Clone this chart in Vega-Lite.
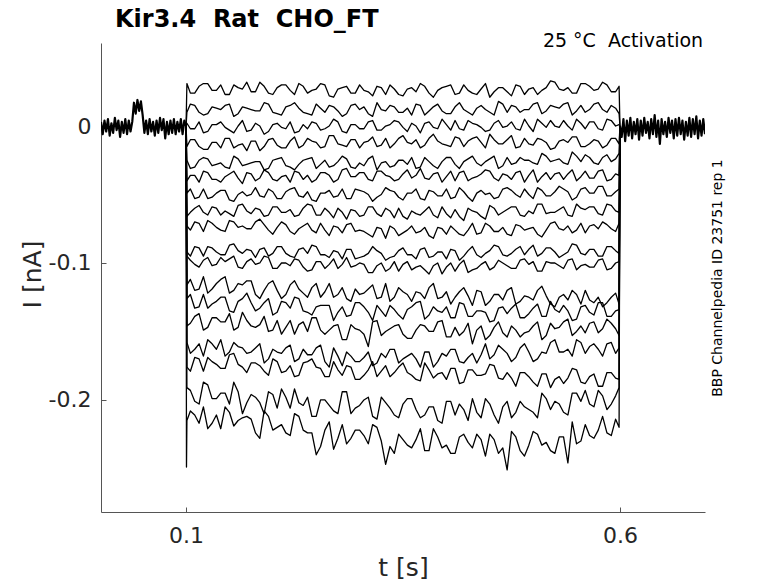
{
"$schema":"https://vega.github.io/schema/vega-lite/v6.json",
"width":604,"height":469,
"autosize":{"type":"none"},
"padding":{"left":101,"top":43,"right":73,"bottom":71},
"background":"white",
"config":{"view":{"stroke":null},"font":"DejaVu Sans"},
"title":{"text":"Kir3.4\u00a0 Rat\u00a0 CHO_FT","anchor":"start","frame":"group","dx":14,"dy":14,"offset":-5,"baseline":"alphabetic","fontSize":24,"fontWeight":"bold","color":"#000000","font":"DejaVu Sans"},
"data":{"values":[
{"s":0,"t":0.002,"i":0.003},{"s":0,"t":0.004,"i":-0.006},{"s":0,"t":0.006,"i":0.004},{"s":0,"t":0.008,"i":-0.004},{"s":0,"t":0.01,"i":0.005},{"s":0,"t":0.012,"i":-0.007},{"s":0,"t":0.014,"i":0.002},{"s":0,"t":0.016,"i":-0.005},{"s":0,"t":0.018,"i":0.006},{"s":0,"t":0.02,"i":-0.003},{"s":0,"t":0.022,"i":0.004},{"s":0,"t":0.024,"i":-0.008},{"s":0,"t":0.026,"i":0.003},{"s":0,"t":0.028,"i":-0.005},{"s":0,"t":0.03,"i":0.005},{"s":0,"t":0.032,"i":-0.006},{"s":0,"t":0.034,"i":0.004},{"s":0,"t":0.036,"i":-0.004},{"s":0,"t":0.038,"i":0.003},{"s":0,"t":0.04,"i":0.017},{"s":0,"t":0.042,"i":0.009},{"s":0,"t":0.044,"i":0.019},{"s":0,"t":0.046,"i":0.011},{"s":0,"t":0.048,"i":0.018},{"s":0,"t":0.05,"i":0.008},{"s":0,"t":0.052,"i":-0.005},{"s":0,"t":0.054,"i":0.004},{"s":0,"t":0.056,"i":-0.006},{"s":0,"t":0.058,"i":0.005},{"s":0,"t":0.06,"i":-0.004},{"s":0,"t":0.062,"i":0.003},{"s":0,"t":0.064,"i":-0.007},{"s":0,"t":0.066,"i":0.004},{"s":0,"t":0.068,"i":-0.005},{"s":0,"t":0.07,"i":0.006},{"s":0,"t":0.072,"i":-0.003},{"s":0,"t":0.074,"i":0.005},{"s":0,"t":0.076,"i":-0.009},{"s":0,"t":0.078,"i":0.003},{"s":0,"t":0.08,"i":-0.006},{"s":0,"t":0.082,"i":0.004},{"s":0,"t":0.084,"i":-0.005},{"s":0,"t":0.086,"i":0.005},{"s":0,"t":0.088,"i":-0.006},{"s":0,"t":0.09,"i":0.003},{"s":0,"t":0.092,"i":-0.004},{"s":0,"t":0.094,"i":0.005},{"s":0,"t":0.096,"i":-0.006},{"s":0,"t":0.098,"i":0.004},{"s":0,"t":0.1,"i":0},
{"s":19,"t":0.6,"i":0},{"s":19,"t":0.602,"i":-0.008},{"s":19,"t":0.604,"i":0.005},{"s":19,"t":0.606,"i":-0.011},{"s":19,"t":0.608,"i":0.004},{"s":19,"t":0.61,"i":-0.007},{"s":19,"t":0.612,"i":0.006},{"s":19,"t":0.614,"i":-0.009},{"s":19,"t":0.616,"i":0.003},{"s":19,"t":0.618,"i":-0.006},{"s":19,"t":0.62,"i":0.005},{"s":19,"t":0.622,"i":-0.01},{"s":19,"t":0.624,"i":0.004},{"s":19,"t":0.626,"i":-0.007},{"s":19,"t":0.628,"i":0.006},{"s":19,"t":0.63,"i":-0.005},{"s":19,"t":0.632,"i":0.003},{"s":19,"t":0.634,"i":-0.009},{"s":19,"t":0.636,"i":0.005},{"s":19,"t":0.638,"i":-0.006},{"s":19,"t":0.64,"i":0.008},{"s":19,"t":0.642,"i":-0.008},{"s":19,"t":0.644,"i":0.004},{"s":19,"t":0.646,"i":-0.013},{"s":19,"t":0.648,"i":0.005},{"s":19,"t":0.65,"i":-0.006},{"s":19,"t":0.652,"i":0.003},{"s":19,"t":0.654,"i":-0.008},{"s":19,"t":0.656,"i":0.006},{"s":19,"t":0.658,"i":-0.005},{"s":19,"t":0.66,"i":0.004},{"s":19,"t":0.662,"i":-0.009},{"s":19,"t":0.664,"i":0.005},{"s":19,"t":0.666,"i":-0.007},{"s":19,"t":0.668,"i":0.006},{"s":19,"t":0.67,"i":-0.006},{"s":19,"t":0.672,"i":0.004},{"s":19,"t":0.674,"i":-0.01},{"s":19,"t":0.676,"i":0.003},{"s":19,"t":0.678,"i":-0.007},{"s":19,"t":0.68,"i":0.006},{"s":19,"t":0.682,"i":-0.008},{"s":19,"t":0.684,"i":0.005},{"s":19,"t":0.686,"i":-0.006},{"s":19,"t":0.688,"i":0.007},{"s":19,"t":0.69,"i":-0.009},{"s":19,"t":0.692,"i":0.004},{"s":19,"t":0.694,"i":-0.007},{"s":19,"t":0.696,"i":0.005},{"s":19,"t":0.698,"i":-0.006},
{"s":1,"t":0.1,"i":0},{"s":1,"t":0.101,"i":0.031},{"s":1,"t":0.11,"i":0.024},{"s":1,"t":0.12,"i":0.031},{"s":1,"t":0.13,"i":0.026},{"s":1,"t":0.14,"i":0.03},{"s":1,"t":0.15,"i":0.023},{"s":1,"t":0.16,"i":0.028},{"s":1,"t":0.17,"i":0.032},{"s":1,"t":0.18,"i":0.025},{"s":1,"t":0.19,"i":0.029},{"s":1,"t":0.2,"i":0.023},{"s":1,"t":0.21,"i":0.03},{"s":1,"t":0.22,"i":0.026},{"s":1,"t":0.23,"i":0.031},{"s":1,"t":0.24,"i":0.024},{"s":1,"t":0.25,"i":0.027},{"s":1,"t":0.26,"i":0.03},{"s":1,"t":0.27,"i":0.021},{"s":1,"t":0.28,"i":0.028},{"s":1,"t":0.29,"i":0.024},{"s":1,"t":0.3,"i":0.03},{"s":1,"t":0.31,"i":0.025},{"s":1,"t":0.32,"i":0.029},{"s":1,"t":0.33,"i":0.023},{"s":1,"t":0.34,"i":0.027},{"s":1,"t":0.35,"i":0.022},{"s":1,"t":0.36,"i":0.028},{"s":1,"t":0.37,"i":0.031},{"s":1,"t":0.38,"i":0.024},{"s":1,"t":0.39,"i":0.026},{"s":1,"t":0.4,"i":0.029},{"s":1,"t":0.41,"i":0.023},{"s":1,"t":0.42,"i":0.03},{"s":1,"t":0.43,"i":0.024},{"s":1,"t":0.44,"i":0.027},{"s":1,"t":0.45,"i":0.021},{"s":1,"t":0.46,"i":0.028},{"s":1,"t":0.47,"i":0.025},{"s":1,"t":0.48,"i":0.03},{"s":1,"t":0.49,"i":0.023},{"s":1,"t":0.5,"i":0.028},{"s":1,"t":0.51,"i":0.026},{"s":1,"t":0.52,"i":0.033},{"s":1,"t":0.53,"i":0.027},{"s":1,"t":0.54,"i":0.028},{"s":1,"t":0.55,"i":0.024},{"s":1,"t":0.56,"i":0.031},{"s":1,"t":0.57,"i":0.026},{"s":1,"t":0.58,"i":0.032},{"s":1,"t":0.59,"i":0.025},{"s":1,"t":0.599,"i":0.029},{"s":1,"t":0.6,"i":0},
{"s":1,"t":0.105,"i":0.024},{"s":1,"t":0.115,"i":0.029},{"s":1,"t":0.125,"i":0.031},{"s":1,"t":0.135,"i":0.026},{"s":1,"t":0.145,"i":0.023},{"s":1,"t":0.155,"i":0.03},{"s":1,"t":0.165,"i":0.027},{"s":1,"t":0.175,"i":0.025},{"s":1,"t":0.185,"i":0.032},{"s":1,"t":0.195,"i":0.024},{"s":1,"t":0.205,"i":0.028},{"s":1,"t":0.215,"i":0.03},{"s":1,"t":0.225,"i":0.023},{"s":1,"t":0.235,"i":0.029},{"s":1,"t":0.245,"i":0.026},{"s":1,"t":0.255,"i":0.031},{"s":1,"t":0.265,"i":0.022},{"s":1,"t":0.275,"i":0.027},{"s":1,"t":0.285,"i":0.029},{"s":1,"t":0.295,"i":0.024},{"s":1,"t":0.305,"i":0.026},{"s":1,"t":0.315,"i":0.022},{"s":1,"t":0.325,"i":0.028},{"s":1,"t":0.335,"i":0.03},{"s":1,"t":0.345,"i":0.023},{"s":1,"t":0.355,"i":0.027},{"s":1,"t":0.365,"i":0.025},{"s":1,"t":0.375,"i":0.029},{"s":1,"t":0.385,"i":0.021},{"s":1,"t":0.395,"i":0.028},{"s":1,"t":0.405,"i":0.03},{"s":1,"t":0.415,"i":0.024},{"s":1,"t":0.425,"i":0.026},{"s":1,"t":0.435,"i":0.023},{"s":1,"t":0.445,"i":0.031},{"s":1,"t":0.455,"i":0.025},{"s":1,"t":0.465,"i":0.028},{"s":1,"t":0.475,"i":0.022},{"s":1,"t":0.485,"i":0.029},{"s":1,"t":0.495,"i":0.027},{"s":1,"t":0.505,"i":0.023},{"s":1,"t":0.515,"i":0.028},{"s":1,"t":0.525,"i":0.032},{"s":1,"t":0.535,"i":0.026},{"s":1,"t":0.545,"i":0.024},{"s":1,"t":0.555,"i":0.031},{"s":1,"t":0.565,"i":0.029},{"s":1,"t":0.575,"i":0.027},{"s":1,"t":0.585,"i":0.03},{"s":1,"t":0.595,"i":0.025},
{"s":2,"t":0.1,"i":0},{"s":2,"t":0.101,"i":0.01},{"s":2,"t":0.11,"i":0.015},{"s":2,"t":0.12,"i":0.008},{"s":2,"t":0.13,"i":0.014},{"s":2,"t":0.14,"i":0.012},{"s":2,"t":0.15,"i":0.016},{"s":2,"t":0.16,"i":0.009},{"s":2,"t":0.17,"i":0.013},{"s":2,"t":0.18,"i":0.011},{"s":2,"t":0.19,"i":0.017},{"s":2,"t":0.2,"i":0.01},{"s":2,"t":0.21,"i":0.008},{"s":2,"t":0.22,"i":0.015},{"s":2,"t":0.23,"i":0.013},{"s":2,"t":0.24,"i":0.009},{"s":2,"t":0.25,"i":0.016},{"s":2,"t":0.26,"i":0.01},{"s":2,"t":0.27,"i":0.014},{"s":2,"t":0.28,"i":0.007},{"s":2,"t":0.29,"i":0.015},{"s":2,"t":0.3,"i":0.012},{"s":2,"t":0.31,"i":0.009},{"s":2,"t":0.32,"i":0.017},{"s":2,"t":0.33,"i":0.011},{"s":2,"t":0.34,"i":0.014},{"s":2,"t":0.35,"i":0.01},{"s":2,"t":0.36,"i":0.008},{"s":2,"t":0.37,"i":0.015},{"s":2,"t":0.38,"i":0.011},{"s":2,"t":0.39,"i":0.016},{"s":2,"t":0.4,"i":0.009},{"s":2,"t":0.41,"i":0.014},{"s":2,"t":0.42,"i":0.012},{"s":2,"t":0.43,"i":0.008},{"s":2,"t":0.44,"i":0.015},{"s":2,"t":0.45,"i":0.01},{"s":2,"t":0.46,"i":0.018},{"s":2,"t":0.47,"i":0.01},{"s":2,"t":0.48,"i":0.014},{"s":2,"t":0.49,"i":0.012},{"s":2,"t":0.5,"i":0.016},{"s":2,"t":0.51,"i":0.009},{"s":2,"t":0.52,"i":0.015},{"s":2,"t":0.53,"i":0.013},{"s":2,"t":0.54,"i":0.017},{"s":2,"t":0.55,"i":0.011},{"s":2,"t":0.56,"i":0.01},{"s":2,"t":0.57,"i":0.016},{"s":2,"t":0.58,"i":0.012},{"s":2,"t":0.59,"i":0.015},{"s":2,"t":0.599,"i":0.009},{"s":2,"t":0.6,"i":0},
{"s":2,"t":0.105,"i":0.016},{"s":2,"t":0.115,"i":0.01},{"s":2,"t":0.125,"i":0.009},{"s":2,"t":0.135,"i":0.013},{"s":2,"t":0.145,"i":0.015},{"s":2,"t":0.155,"i":0.007},{"s":2,"t":0.165,"i":0.014},{"s":2,"t":0.175,"i":0.012},{"s":2,"t":0.185,"i":0.011},{"s":2,"t":0.195,"i":0.016},{"s":2,"t":0.205,"i":0.009},{"s":2,"t":0.215,"i":0.014},{"s":2,"t":0.225,"i":0.017},{"s":2,"t":0.235,"i":0.01},{"s":2,"t":0.245,"i":0.008},{"s":2,"t":0.255,"i":0.013},{"s":2,"t":0.265,"i":0.015},{"s":2,"t":0.275,"i":0.011},{"s":2,"t":0.285,"i":0.009},{"s":2,"t":0.295,"i":0.016},{"s":2,"t":0.305,"i":0.014},{"s":2,"t":0.315,"i":0.007},{"s":2,"t":0.325,"i":0.012},{"s":2,"t":0.335,"i":0.015},{"s":2,"t":0.345,"i":0.01},{"s":2,"t":0.355,"i":0.013},{"s":2,"t":0.365,"i":0.016},{"s":2,"t":0.375,"i":0.008},{"s":2,"t":0.385,"i":0.014},{"s":2,"t":0.395,"i":0.011},{"s":2,"t":0.405,"i":0.009},{"s":2,"t":0.415,"i":0.017},{"s":2,"t":0.425,"i":0.01},{"s":2,"t":0.435,"i":0.013},{"s":2,"t":0.445,"i":0.012},{"s":2,"t":0.455,"i":0.008},{"s":2,"t":0.465,"i":0.016},{"s":2,"t":0.475,"i":0.015},{"s":2,"t":0.485,"i":0.01},{"s":2,"t":0.495,"i":0.012},{"s":2,"t":0.505,"i":0.017},{"s":2,"t":0.515,"i":0.011},{"s":2,"t":0.525,"i":0.014},{"s":2,"t":0.535,"i":0.016},{"s":2,"t":0.545,"i":0.008},{"s":2,"t":0.555,"i":0.015},{"s":2,"t":0.565,"i":0.012},{"s":2,"t":0.575,"i":0.017},{"s":2,"t":0.585,"i":0.01},{"s":2,"t":0.595,"i":0.013},
{"s":3,"t":0.1,"i":0},{"s":3,"t":0.101,"i":0.002},{"s":3,"t":0.11,"i":-0.002},{"s":3,"t":0.12,"i":-0.005},{"s":3,"t":0.13,"i":0.001},{"s":3,"t":0.14,"i":0.003},{"s":3,"t":0.15,"i":-0.003},{"s":3,"t":0.16,"i":0},{"s":3,"t":0.17,"i":-0.004},{"s":3,"t":0.18,"i":0.002},{"s":3,"t":0.19,"i":-0.006},{"s":3,"t":0.2,"i":0.001},{"s":3,"t":0.21,"i":-0.001},{"s":3,"t":0.22,"i":0.003},{"s":3,"t":0.23,"i":-0.004},{"s":3,"t":0.24,"i":-0.002},{"s":3,"t":0.25,"i":0.002},{"s":3,"t":0.26,"i":-0.002},{"s":3,"t":0.27,"i":0.005},{"s":3,"t":0.28,"i":-0.004},{"s":3,"t":0.29,"i":0.001},{"s":3,"t":0.3,"i":-0.002},{"s":3,"t":0.31,"i":0.003},{"s":3,"t":0.32,"i":-0.003},{"s":3,"t":0.33,"i":0},{"s":3,"t":0.34,"i":0.004},{"s":3,"t":0.35,"i":-0.001},{"s":3,"t":0.36,"i":0.002},{"s":3,"t":0.37,"i":-0.005},{"s":3,"t":0.38,"i":0.003},{"s":3,"t":0.39,"i":-0.002},{"s":3,"t":0.4,"i":0.001},{"s":3,"t":0.41,"i":0.004},{"s":3,"t":0.42,"i":-0.003},{"s":3,"t":0.43,"i":0.002},{"s":3,"t":0.44,"i":-0.001},{"s":3,"t":0.45,"i":-0.003},{"s":3,"t":0.46,"i":0.004},{"s":3,"t":0.47,"i":0},{"s":3,"t":0.48,"i":-0.002},{"s":3,"t":0.49,"i":0.005},{"s":3,"t":0.5,"i":-0.004},{"s":3,"t":0.51,"i":0.002},{"s":3,"t":0.52,"i":0.004},{"s":3,"t":0.53,"i":-0.001},{"s":3,"t":0.54,"i":0},{"s":3,"t":0.55,"i":0.005},{"s":3,"t":0.56,"i":-0.002},{"s":3,"t":0.57,"i":0.003},{"s":3,"t":0.58,"i":-0.003},{"s":3,"t":0.59,"i":0.004},{"s":3,"t":0.599,"i":0.001},{"s":3,"t":0.6,"i":0},
{"s":3,"t":0.105,"i":-0.002},{"s":3,"t":0.115,"i":0.003},{"s":3,"t":0.125,"i":-0.004},{"s":3,"t":0.135,"i":0.001},{"s":3,"t":0.145,"i":-0.001},{"s":3,"t":0.155,"i":-0.005},{"s":3,"t":0.165,"i":0.004},{"s":3,"t":0.175,"i":-0.003},{"s":3,"t":0.185,"i":0},{"s":3,"t":0.195,"i":-0.004},{"s":3,"t":0.205,"i":0.002},{"s":3,"t":0.215,"i":-0.002},{"s":3,"t":0.225,"i":-0.005},{"s":3,"t":0.235,"i":0.001},{"s":3,"t":0.245,"i":0.003},{"s":3,"t":0.255,"i":-0.003},{"s":3,"t":0.265,"i":0},{"s":3,"t":0.275,"i":0.003},{"s":3,"t":0.285,"i":-0.005},{"s":3,"t":0.295,"i":0.001},{"s":3,"t":0.305,"i":-0.002},{"s":3,"t":0.315,"i":0.004},{"s":3,"t":0.325,"i":-0.003},{"s":3,"t":0.335,"i":0.001},{"s":3,"t":0.345,"i":0.003},{"s":3,"t":0.355,"i":-0.004},{"s":3,"t":0.365,"i":0},{"s":3,"t":0.375,"i":0.002},{"s":3,"t":0.385,"i":-0.001},{"s":3,"t":0.395,"i":0.005},{"s":3,"t":0.405,"i":-0.003},{"s":3,"t":0.415,"i":-0.002},{"s":3,"t":0.425,"i":0.004},{"s":3,"t":0.435,"i":0.001},{"s":3,"t":0.445,"i":-0.004},{"s":3,"t":0.455,"i":0.002},{"s":3,"t":0.465,"i":-0.001},{"s":3,"t":0.475,"i":0.003},{"s":3,"t":0.485,"i":-0.003},{"s":3,"t":0.495,"i":0},{"s":3,"t":0.505,"i":0.005},{"s":3,"t":0.515,"i":-0.001},{"s":3,"t":0.525,"i":0},{"s":3,"t":0.535,"i":0.004},{"s":3,"t":0.545,"i":-0.003},{"s":3,"t":0.555,"i":0.002},{"s":3,"t":0.565,"i":0.003},{"s":3,"t":0.575,"i":-0.002},{"s":3,"t":0.585,"i":0.005},{"s":3,"t":0.595,"i":0},
{"s":4,"t":0.1,"i":0},{"s":4,"t":0.101,"i":-0.015},{"s":4,"t":0.11,"i":-0.01},{"s":4,"t":0.12,"i":-0.017},{"s":4,"t":0.13,"i":-0.012},{"s":4,"t":0.14,"i":-0.016},{"s":4,"t":0.15,"i":-0.009},{"s":4,"t":0.16,"i":-0.014},{"s":4,"t":0.17,"i":-0.018},{"s":4,"t":0.18,"i":-0.011},{"s":4,"t":0.19,"i":-0.015},{"s":4,"t":0.2,"i":-0.009},{"s":4,"t":0.21,"i":-0.016},{"s":4,"t":0.22,"i":-0.011},{"s":4,"t":0.23,"i":-0.016},{"s":4,"t":0.24,"i":-0.009},{"s":4,"t":0.25,"i":-0.012},{"s":4,"t":0.26,"i":-0.015},{"s":4,"t":0.27,"i":-0.007},{"s":4,"t":0.28,"i":-0.014},{"s":4,"t":0.29,"i":-0.01},{"s":4,"t":0.3,"i":-0.016},{"s":4,"t":0.31,"i":-0.011},{"s":4,"t":0.32,"i":-0.015},{"s":4,"t":0.33,"i":-0.009},{"s":4,"t":0.34,"i":-0.013},{"s":4,"t":0.35,"i":-0.007},{"s":4,"t":0.36,"i":-0.013},{"s":4,"t":0.37,"i":-0.016},{"s":4,"t":0.38,"i":-0.009},{"s":4,"t":0.39,"i":-0.011},{"s":4,"t":0.4,"i":-0.014},{"s":4,"t":0.41,"i":-0.008},{"s":4,"t":0.42,"i":-0.015},{"s":4,"t":0.43,"i":-0.009},{"s":4,"t":0.44,"i":-0.012},{"s":4,"t":0.45,"i":-0.006},{"s":4,"t":0.46,"i":-0.013},{"s":4,"t":0.47,"i":-0.01},{"s":4,"t":0.48,"i":-0.016},{"s":4,"t":0.49,"i":-0.009},{"s":4,"t":0.5,"i":-0.014},{"s":4,"t":0.51,"i":-0.01},{"s":4,"t":0.52,"i":-0.017},{"s":4,"t":0.53,"i":-0.011},{"s":4,"t":0.54,"i":-0.012},{"s":4,"t":0.55,"i":-0.008},{"s":4,"t":0.56,"i":-0.015},{"s":4,"t":0.57,"i":-0.01},{"s":4,"t":0.58,"i":-0.016},{"s":4,"t":0.59,"i":-0.009},{"s":4,"t":0.599,"i":-0.013},{"s":4,"t":0.6,"i":0},
{"s":4,"t":0.105,"i":-0.01},{"s":4,"t":0.115,"i":-0.015},{"s":4,"t":0.125,"i":-0.017},{"s":4,"t":0.135,"i":-0.012},{"s":4,"t":0.145,"i":-0.009},{"s":4,"t":0.155,"i":-0.016},{"s":4,"t":0.165,"i":-0.013},{"s":4,"t":0.175,"i":-0.011},{"s":4,"t":0.185,"i":-0.018},{"s":4,"t":0.195,"i":-0.01},{"s":4,"t":0.205,"i":-0.014},{"s":4,"t":0.215,"i":-0.016},{"s":4,"t":0.225,"i":-0.008},{"s":4,"t":0.235,"i":-0.014},{"s":4,"t":0.245,"i":-0.011},{"s":4,"t":0.255,"i":-0.016},{"s":4,"t":0.265,"i":-0.007},{"s":4,"t":0.275,"i":-0.013},{"s":4,"t":0.285,"i":-0.015},{"s":4,"t":0.295,"i":-0.01},{"s":4,"t":0.305,"i":-0.012},{"s":4,"t":0.315,"i":-0.008},{"s":4,"t":0.325,"i":-0.014},{"s":4,"t":0.335,"i":-0.016},{"s":4,"t":0.345,"i":-0.009},{"s":4,"t":0.355,"i":-0.012},{"s":4,"t":0.365,"i":-0.01},{"s":4,"t":0.375,"i":-0.014},{"s":4,"t":0.385,"i":-0.006},{"s":4,"t":0.395,"i":-0.013},{"s":4,"t":0.405,"i":-0.015},{"s":4,"t":0.415,"i":-0.009},{"s":4,"t":0.425,"i":-0.011},{"s":4,"t":0.435,"i":-0.008},{"s":4,"t":0.445,"i":-0.016},{"s":4,"t":0.455,"i":-0.01},{"s":4,"t":0.465,"i":-0.013},{"s":4,"t":0.475,"i":-0.007},{"s":4,"t":0.485,"i":-0.015},{"s":4,"t":0.495,"i":-0.013},{"s":4,"t":0.505,"i":-0.009},{"s":4,"t":0.515,"i":-0.012},{"s":4,"t":0.525,"i":-0.016},{"s":4,"t":0.535,"i":-0.01},{"s":4,"t":0.545,"i":-0.008},{"s":4,"t":0.555,"i":-0.015},{"s":4,"t":0.565,"i":-0.013},{"s":4,"t":0.575,"i":-0.011},{"s":4,"t":0.585,"i":-0.014},{"s":4,"t":0.595,"i":-0.009},
{"s":5,"t":0.1,"i":0},{"s":5,"t":0.101,"i":-0.025},{"s":5,"t":0.11,"i":-0.03},{"s":5,"t":0.12,"i":-0.023},{"s":5,"t":0.13,"i":-0.029},{"s":5,"t":0.14,"i":-0.027},{"s":5,"t":0.15,"i":-0.031},{"s":5,"t":0.16,"i":-0.024},{"s":5,"t":0.17,"i":-0.028},{"s":5,"t":0.18,"i":-0.026},{"s":5,"t":0.19,"i":-0.032},{"s":5,"t":0.2,"i":-0.025},{"s":5,"t":0.21,"i":-0.023},{"s":5,"t":0.22,"i":-0.03},{"s":5,"t":0.23,"i":-0.028},{"s":5,"t":0.24,"i":-0.024},{"s":5,"t":0.25,"i":-0.031},{"s":5,"t":0.26,"i":-0.025},{"s":5,"t":0.27,"i":-0.029},{"s":5,"t":0.28,"i":-0.022},{"s":5,"t":0.29,"i":-0.03},{"s":5,"t":0.3,"i":-0.027},{"s":5,"t":0.31,"i":-0.024},{"s":5,"t":0.32,"i":-0.032},{"s":5,"t":0.33,"i":-0.026},{"s":5,"t":0.34,"i":-0.029},{"s":5,"t":0.35,"i":-0.025},{"s":5,"t":0.36,"i":-0.023},{"s":5,"t":0.37,"i":-0.03},{"s":5,"t":0.38,"i":-0.026},{"s":5,"t":0.39,"i":-0.031},{"s":5,"t":0.4,"i":-0.023},{"s":5,"t":0.41,"i":-0.028},{"s":5,"t":0.42,"i":-0.026},{"s":5,"t":0.43,"i":-0.022},{"s":5,"t":0.44,"i":-0.029},{"s":5,"t":0.45,"i":-0.024},{"s":5,"t":0.46,"i":-0.031},{"s":5,"t":0.47,"i":-0.023},{"s":5,"t":0.48,"i":-0.027},{"s":5,"t":0.49,"i":-0.025},{"s":5,"t":0.5,"i":-0.027},{"s":5,"t":0.51,"i":-0.02},{"s":5,"t":0.52,"i":-0.026},{"s":5,"t":0.53,"i":-0.024},{"s":5,"t":0.54,"i":-0.028},{"s":5,"t":0.55,"i":-0.022},{"s":5,"t":0.56,"i":-0.021},{"s":5,"t":0.57,"i":-0.027},{"s":5,"t":0.58,"i":-0.023},{"s":5,"t":0.59,"i":-0.026},{"s":5,"t":0.599,"i":-0.02},{"s":5,"t":0.6,"i":0},
{"s":5,"t":0.105,"i":-0.031},{"s":5,"t":0.115,"i":-0.025},{"s":5,"t":0.125,"i":-0.024},{"s":5,"t":0.135,"i":-0.028},{"s":5,"t":0.145,"i":-0.03},{"s":5,"t":0.155,"i":-0.022},{"s":5,"t":0.165,"i":-0.029},{"s":5,"t":0.175,"i":-0.027},{"s":5,"t":0.185,"i":-0.026},{"s":5,"t":0.195,"i":-0.031},{"s":5,"t":0.205,"i":-0.024},{"s":5,"t":0.215,"i":-0.029},{"s":5,"t":0.225,"i":-0.032},{"s":5,"t":0.235,"i":-0.025},{"s":5,"t":0.245,"i":-0.023},{"s":5,"t":0.255,"i":-0.028},{"s":5,"t":0.265,"i":-0.03},{"s":5,"t":0.275,"i":-0.026},{"s":5,"t":0.285,"i":-0.024},{"s":5,"t":0.295,"i":-0.031},{"s":5,"t":0.305,"i":-0.029},{"s":5,"t":0.315,"i":-0.022},{"s":5,"t":0.325,"i":-0.027},{"s":5,"t":0.335,"i":-0.03},{"s":5,"t":0.345,"i":-0.025},{"s":5,"t":0.355,"i":-0.028},{"s":5,"t":0.365,"i":-0.031},{"s":5,"t":0.375,"i":-0.023},{"s":5,"t":0.385,"i":-0.029},{"s":5,"t":0.395,"i":-0.026},{"s":5,"t":0.405,"i":-0.023},{"s":5,"t":0.415,"i":-0.031},{"s":5,"t":0.425,"i":-0.024},{"s":5,"t":0.435,"i":-0.027},{"s":5,"t":0.445,"i":-0.026},{"s":5,"t":0.455,"i":-0.022},{"s":5,"t":0.465,"i":-0.029},{"s":5,"t":0.475,"i":-0.028},{"s":5,"t":0.485,"i":-0.023},{"s":5,"t":0.495,"i":-0.025},{"s":5,"t":0.505,"i":-0.028},{"s":5,"t":0.515,"i":-0.022},{"s":5,"t":0.525,"i":-0.025},{"s":5,"t":0.535,"i":-0.027},{"s":5,"t":0.545,"i":-0.019},{"s":5,"t":0.555,"i":-0.026},{"s":5,"t":0.565,"i":-0.023},{"s":5,"t":0.575,"i":-0.028},{"s":5,"t":0.585,"i":-0.021},{"s":5,"t":0.595,"i":-0.024},
{"s":6,"t":0.1,"i":0},{"s":6,"t":0.101,"i":-0.04},{"s":6,"t":0.11,"i":-0.036},{"s":6,"t":0.12,"i":-0.033},{"s":6,"t":0.13,"i":-0.039},{"s":6,"t":0.14,"i":-0.041},{"s":6,"t":0.15,"i":-0.035},{"s":6,"t":0.16,"i":-0.038},{"s":6,"t":0.17,"i":-0.034},{"s":6,"t":0.18,"i":-0.04},{"s":6,"t":0.19,"i":-0.032},{"s":6,"t":0.2,"i":-0.039},{"s":6,"t":0.21,"i":-0.037},{"s":6,"t":0.22,"i":-0.041},{"s":6,"t":0.23,"i":-0.034},{"s":6,"t":0.24,"i":-0.036},{"s":6,"t":0.25,"i":-0.039},{"s":6,"t":0.26,"i":-0.034},{"s":6,"t":0.27,"i":-0.041},{"s":6,"t":0.28,"i":-0.032},{"s":6,"t":0.29,"i":-0.037},{"s":6,"t":0.3,"i":-0.034},{"s":6,"t":0.31,"i":-0.039},{"s":6,"t":0.32,"i":-0.033},{"s":6,"t":0.33,"i":-0.036},{"s":6,"t":0.34,"i":-0.04},{"s":6,"t":0.35,"i":-0.035},{"s":6,"t":0.36,"i":-0.038},{"s":6,"t":0.37,"i":-0.031},{"s":6,"t":0.38,"i":-0.039},{"s":6,"t":0.39,"i":-0.034},{"s":6,"t":0.4,"i":-0.037},{"s":6,"t":0.41,"i":-0.04},{"s":6,"t":0.42,"i":-0.033},{"s":6,"t":0.43,"i":-0.038},{"s":6,"t":0.44,"i":-0.035},{"s":6,"t":0.45,"i":-0.033},{"s":6,"t":0.46,"i":-0.04},{"s":6,"t":0.47,"i":-0.036},{"s":6,"t":0.48,"i":-0.034},{"s":6,"t":0.49,"i":-0.041},{"s":6,"t":0.5,"i":-0.032},{"s":6,"t":0.51,"i":-0.037},{"s":6,"t":0.52,"i":-0.039},{"s":6,"t":0.53,"i":-0.034},{"s":6,"t":0.54,"i":-0.035},{"s":6,"t":0.55,"i":-0.04},{"s":6,"t":0.56,"i":-0.033},{"s":6,"t":0.57,"i":-0.038},{"s":6,"t":0.58,"i":-0.032},{"s":6,"t":0.59,"i":-0.039},{"s":6,"t":0.599,"i":-0.036},{"s":6,"t":0.6,"i":0},
{"s":6,"t":0.105,"i":-0.036},{"s":6,"t":0.115,"i":-0.041},{"s":6,"t":0.125,"i":-0.034},{"s":6,"t":0.135,"i":-0.039},{"s":6,"t":0.145,"i":-0.037},{"s":6,"t":0.155,"i":-0.033},{"s":6,"t":0.165,"i":-0.042},{"s":6,"t":0.175,"i":-0.035},{"s":6,"t":0.185,"i":-0.038},{"s":6,"t":0.195,"i":-0.034},{"s":6,"t":0.205,"i":-0.04},{"s":6,"t":0.215,"i":-0.036},{"s":6,"t":0.225,"i":-0.033},{"s":6,"t":0.235,"i":-0.039},{"s":6,"t":0.245,"i":-0.041},{"s":6,"t":0.255,"i":-0.034},{"s":6,"t":0.265,"i":-0.036},{"s":6,"t":0.275,"i":-0.039},{"s":6,"t":0.285,"i":-0.031},{"s":6,"t":0.295,"i":-0.037},{"s":6,"t":0.305,"i":-0.034},{"s":6,"t":0.315,"i":-0.04},{"s":6,"t":0.325,"i":-0.033},{"s":6,"t":0.335,"i":-0.037},{"s":6,"t":0.345,"i":-0.039},{"s":6,"t":0.355,"i":-0.032},{"s":6,"t":0.365,"i":-0.036},{"s":6,"t":0.375,"i":-0.038},{"s":6,"t":0.385,"i":-0.035},{"s":6,"t":0.395,"i":-0.041},{"s":6,"t":0.405,"i":-0.033},{"s":6,"t":0.415,"i":-0.034},{"s":6,"t":0.425,"i":-0.04},{"s":6,"t":0.435,"i":-0.037},{"s":6,"t":0.445,"i":-0.032},{"s":6,"t":0.455,"i":-0.038},{"s":6,"t":0.465,"i":-0.035},{"s":6,"t":0.475,"i":-0.039},{"s":6,"t":0.485,"i":-0.033},{"s":6,"t":0.495,"i":-0.036},{"s":6,"t":0.505,"i":-0.041},{"s":6,"t":0.515,"i":-0.034},{"s":6,"t":0.525,"i":-0.035},{"s":6,"t":0.535,"i":-0.039},{"s":6,"t":0.545,"i":-0.032},{"s":6,"t":0.555,"i":-0.037},{"s":6,"t":0.565,"i":-0.038},{"s":6,"t":0.575,"i":-0.033},{"s":6,"t":0.585,"i":-0.04},{"s":6,"t":0.595,"i":-0.035},
{"s":7,"t":0.1,"i":0},{"s":7,"t":0.101,"i":-0.049},{"s":7,"t":0.11,"i":-0.053},{"s":7,"t":0.12,"i":-0.046},{"s":7,"t":0.13,"i":-0.052},{"s":7,"t":0.14,"i":-0.047},{"s":7,"t":0.15,"i":-0.054},{"s":7,"t":0.16,"i":-0.05},{"s":7,"t":0.17,"i":-0.051},{"s":7,"t":0.18,"i":-0.045},{"s":7,"t":0.19,"i":-0.052},{"s":7,"t":0.2,"i":-0.048},{"s":7,"t":0.21,"i":-0.053},{"s":7,"t":0.22,"i":-0.046},{"s":7,"t":0.23,"i":-0.051},{"s":7,"t":0.24,"i":-0.048},{"s":7,"t":0.25,"i":-0.055},{"s":7,"t":0.26,"i":-0.049},{"s":7,"t":0.27,"i":-0.052},{"s":7,"t":0.28,"i":-0.046},{"s":7,"t":0.29,"i":-0.053},{"s":7,"t":0.3,"i":-0.047},{"s":7,"t":0.31,"i":-0.05},{"s":7,"t":0.32,"i":-0.052},{"s":7,"t":0.33,"i":-0.045},{"s":7,"t":0.34,"i":-0.048},{"s":7,"t":0.35,"i":-0.054},{"s":7,"t":0.36,"i":-0.049},{"s":7,"t":0.37,"i":-0.053},{"s":7,"t":0.38,"i":-0.047},{"s":7,"t":0.39,"i":-0.051},{"s":7,"t":0.4,"i":-0.046},{"s":7,"t":0.41,"i":-0.052},{"s":7,"t":0.42,"i":-0.048},{"s":7,"t":0.43,"i":-0.055},{"s":7,"t":0.44,"i":-0.047},{"s":7,"t":0.45,"i":-0.049},{"s":7,"t":0.46,"i":-0.052},{"s":7,"t":0.47,"i":-0.045},{"s":7,"t":0.48,"i":-0.05},{"s":7,"t":0.49,"i":-0.046},{"s":7,"t":0.5,"i":-0.053},{"s":7,"t":0.51,"i":-0.047},{"s":7,"t":0.52,"i":-0.051},{"s":7,"t":0.53,"i":-0.044},{"s":7,"t":0.54,"i":-0.048},{"s":7,"t":0.55,"i":-0.052},{"s":7,"t":0.56,"i":-0.045},{"s":7,"t":0.57,"i":-0.049},{"s":7,"t":0.58,"i":-0.044},{"s":7,"t":0.59,"i":-0.051},{"s":7,"t":0.599,"i":-0.046},{"s":7,"t":0.6,"i":0},
{"s":7,"t":0.105,"i":-0.046},{"s":7,"t":0.115,"i":-0.052},{"s":7,"t":0.125,"i":-0.053},{"s":7,"t":0.135,"i":-0.049},{"s":7,"t":0.145,"i":-0.047},{"s":7,"t":0.155,"i":-0.055},{"s":7,"t":0.165,"i":-0.048},{"s":7,"t":0.175,"i":-0.05},{"s":7,"t":0.185,"i":-0.051},{"s":7,"t":0.195,"i":-0.046},{"s":7,"t":0.205,"i":-0.053},{"s":7,"t":0.215,"i":-0.048},{"s":7,"t":0.225,"i":-0.045},{"s":7,"t":0.235,"i":-0.052},{"s":7,"t":0.245,"i":-0.054},{"s":7,"t":0.255,"i":-0.049},{"s":7,"t":0.265,"i":-0.047},{"s":7,"t":0.275,"i":-0.051},{"s":7,"t":0.285,"i":-0.053},{"s":7,"t":0.295,"i":-0.046},{"s":7,"t":0.305,"i":-0.048},{"s":7,"t":0.315,"i":-0.055},{"s":7,"t":0.325,"i":-0.05},{"s":7,"t":0.335,"i":-0.047},{"s":7,"t":0.345,"i":-0.052},{"s":7,"t":0.355,"i":-0.049},{"s":7,"t":0.365,"i":-0.046},{"s":7,"t":0.375,"i":-0.054},{"s":7,"t":0.385,"i":-0.048},{"s":7,"t":0.395,"i":-0.051},{"s":7,"t":0.405,"i":-0.053},{"s":7,"t":0.415,"i":-0.045},{"s":7,"t":0.425,"i":-0.052},{"s":7,"t":0.435,"i":-0.049},{"s":7,"t":0.445,"i":-0.05},{"s":7,"t":0.455,"i":-0.053},{"s":7,"t":0.465,"i":-0.046},{"s":7,"t":0.475,"i":-0.047},{"s":7,"t":0.485,"i":-0.052},{"s":7,"t":0.495,"i":-0.05},{"s":7,"t":0.505,"i":-0.045},{"s":7,"t":0.515,"i":-0.051},{"s":7,"t":0.525,"i":-0.048},{"s":7,"t":0.535,"i":-0.046},{"s":7,"t":0.545,"i":-0.054},{"s":7,"t":0.555,"i":-0.046},{"s":7,"t":0.565,"i":-0.049},{"s":7,"t":0.575,"i":-0.044},{"s":7,"t":0.585,"i":-0.051},{"s":7,"t":0.595,"i":-0.048},
{"s":8,"t":0.1,"i":0},{"s":8,"t":0.101,"i":-0.066},{"s":8,"t":0.11,"i":-0.06},{"s":8,"t":0.12,"i":-0.063},{"s":8,"t":0.13,"i":-0.059},{"s":8,"t":0.14,"i":-0.065},{"s":8,"t":0.15,"i":-0.064},{"s":8,"t":0.16,"i":-0.058},{"s":8,"t":0.17,"i":-0.062},{"s":8,"t":0.18,"i":-0.06},{"s":8,"t":0.19,"i":-0.066},{"s":8,"t":0.2,"i":-0.059},{"s":8,"t":0.21,"i":-0.063},{"s":8,"t":0.22,"i":-0.061},{"s":8,"t":0.23,"i":-0.065},{"s":8,"t":0.24,"i":-0.057},{"s":8,"t":0.25,"i":-0.065},{"s":8,"t":0.26,"i":-0.06},{"s":8,"t":0.27,"i":-0.067},{"s":8,"t":0.28,"i":-0.063},{"s":8,"t":0.29,"i":-0.061},{"s":8,"t":0.3,"i":-0.066},{"s":8,"t":0.31,"i":-0.059},{"s":8,"t":0.32,"i":-0.064},{"s":8,"t":0.33,"i":-0.06},{"s":8,"t":0.34,"i":-0.067},{"s":8,"t":0.35,"i":-0.066},{"s":8,"t":0.36,"i":-0.062},{"s":8,"t":0.37,"i":-0.065},{"s":8,"t":0.38,"i":-0.059},{"s":8,"t":0.39,"i":-0.067},{"s":8,"t":0.4,"i":-0.064},{"s":8,"t":0.41,"i":-0.061},{"s":8,"t":0.42,"i":-0.069},{"s":8,"t":0.43,"i":-0.062},{"s":8,"t":0.44,"i":-0.066},{"s":8,"t":0.45,"i":-0.058},{"s":8,"t":0.46,"i":-0.065},{"s":8,"t":0.47,"i":-0.061},{"s":8,"t":0.48,"i":-0.059},{"s":8,"t":0.49,"i":-0.066},{"s":8,"t":0.5,"i":-0.064},{"s":8,"t":0.51,"i":-0.057},{"s":8,"t":0.52,"i":-0.063},{"s":8,"t":0.53,"i":-0.061},{"s":8,"t":0.54,"i":-0.065},{"s":8,"t":0.55,"i":-0.057},{"s":8,"t":0.56,"i":-0.061},{"s":8,"t":0.57,"i":-0.059},{"s":8,"t":0.58,"i":-0.065},{"s":8,"t":0.59,"i":-0.058},{"s":8,"t":0.599,"i":-0.063},{"s":8,"t":0.6,"i":0},
{"s":8,"t":0.105,"i":-0.063},{"s":8,"t":0.115,"i":-0.058},{"s":8,"t":0.125,"i":-0.065},{"s":8,"t":0.135,"i":-0.06},{"s":8,"t":0.145,"i":-0.062},{"s":8,"t":0.155,"i":-0.066},{"s":8,"t":0.165,"i":-0.057},{"s":8,"t":0.175,"i":-0.064},{"s":8,"t":0.185,"i":-0.061},{"s":8,"t":0.195,"i":-0.065},{"s":8,"t":0.205,"i":-0.059},{"s":8,"t":0.215,"i":-0.063},{"s":8,"t":0.225,"i":-0.066},{"s":8,"t":0.235,"i":-0.06},{"s":8,"t":0.245,"i":-0.058},{"s":8,"t":0.255,"i":-0.065},{"s":8,"t":0.265,"i":-0.063},{"s":8,"t":0.275,"i":-0.06},{"s":8,"t":0.285,"i":-0.068},{"s":8,"t":0.295,"i":-0.062},{"s":8,"t":0.305,"i":-0.065},{"s":8,"t":0.315,"i":-0.059},{"s":8,"t":0.325,"i":-0.066},{"s":8,"t":0.335,"i":-0.062},{"s":8,"t":0.345,"i":-0.06},{"s":8,"t":0.355,"i":-0.068},{"s":8,"t":0.365,"i":-0.064},{"s":8,"t":0.375,"i":-0.062},{"s":8,"t":0.385,"i":-0.065},{"s":8,"t":0.395,"i":-0.059},{"s":8,"t":0.405,"i":-0.067},{"s":8,"t":0.415,"i":-0.066},{"s":8,"t":0.425,"i":-0.06},{"s":8,"t":0.435,"i":-0.063},{"s":8,"t":0.445,"i":-0.068},{"s":8,"t":0.455,"i":-0.06},{"s":8,"t":0.465,"i":-0.063},{"s":8,"t":0.475,"i":-0.059},{"s":8,"t":0.485,"i":-0.065},{"s":8,"t":0.495,"i":-0.062},{"s":8,"t":0.505,"i":-0.057},{"s":8,"t":0.515,"i":-0.064},{"s":8,"t":0.525,"i":-0.063},{"s":8,"t":0.535,"i":-0.059},{"s":8,"t":0.545,"i":-0.066},{"s":8,"t":0.555,"i":-0.06},{"s":8,"t":0.565,"i":-0.059},{"s":8,"t":0.575,"i":-0.064},{"s":8,"t":0.585,"i":-0.057},{"s":8,"t":0.595,"i":-0.062},
{"s":9,"t":0.1,"i":0},{"s":9,"t":0.101,"i":-0.073},{"s":9,"t":0.11,"i":-0.07},{"s":9,"t":0.12,"i":-0.077},{"s":9,"t":0.13,"i":-0.071},{"s":9,"t":0.14,"i":-0.076},{"s":9,"t":0.15,"i":-0.069},{"s":9,"t":0.16,"i":-0.074},{"s":9,"t":0.17,"i":-0.075},{"s":9,"t":0.18,"i":-0.07},{"s":9,"t":0.19,"i":-0.072},{"s":9,"t":0.2,"i":-0.079},{"s":9,"t":0.21,"i":-0.07},{"s":9,"t":0.22,"i":-0.077},{"s":9,"t":0.23,"i":-0.075},{"s":9,"t":0.24,"i":-0.071},{"s":9,"t":0.25,"i":-0.078},{"s":9,"t":0.26,"i":-0.076},{"s":9,"t":0.27,"i":-0.073},{"s":9,"t":0.28,"i":-0.078},{"s":9,"t":0.29,"i":-0.071},{"s":9,"t":0.3,"i":-0.076},{"s":9,"t":0.31,"i":-0.079},{"s":9,"t":0.32,"i":-0.074},{"s":9,"t":0.33,"i":-0.082},{"s":9,"t":0.34,"i":-0.075},{"s":9,"t":0.35,"i":-0.078},{"s":9,"t":0.36,"i":-0.073},{"s":9,"t":0.37,"i":-0.077},{"s":9,"t":0.38,"i":-0.08},{"s":9,"t":0.39,"i":-0.074},{"s":9,"t":0.4,"i":-0.079},{"s":9,"t":0.41,"i":-0.076},{"s":9,"t":0.42,"i":-0.08},{"s":9,"t":0.43,"i":-0.071},{"s":9,"t":0.44,"i":-0.078},{"s":9,"t":0.45,"i":-0.073},{"s":9,"t":0.46,"i":-0.077},{"s":9,"t":0.47,"i":-0.079},{"s":9,"t":0.48,"i":-0.072},{"s":9,"t":0.49,"i":-0.076},{"s":9,"t":0.5,"i":-0.074},{"s":9,"t":0.51,"i":-0.081},{"s":9,"t":0.52,"i":-0.071},{"s":9,"t":0.53,"i":-0.075},{"s":9,"t":0.54,"i":-0.073},{"s":9,"t":0.55,"i":-0.076},{"s":9,"t":0.56,"i":-0.078},{"s":9,"t":0.57,"i":-0.072},{"s":9,"t":0.58,"i":-0.07},{"s":9,"t":0.59,"i":-0.075},{"s":9,"t":0.599,"i":-0.071},{"s":9,"t":0.6,"i":0},
{"s":9,"t":0.105,"i":-0.076},{"s":9,"t":0.115,"i":-0.071},{"s":9,"t":0.125,"i":-0.069},{"s":9,"t":0.135,"i":-0.074},{"s":9,"t":0.145,"i":-0.077},{"s":9,"t":0.155,"i":-0.07},{"s":9,"t":0.165,"i":-0.073},{"s":9,"t":0.175,"i":-0.075},{"s":9,"t":0.185,"i":-0.068},{"s":9,"t":0.195,"i":-0.076},{"s":9,"t":0.205,"i":-0.074},{"s":9,"t":0.215,"i":-0.072},{"s":9,"t":0.225,"i":-0.079},{"s":9,"t":0.235,"i":-0.073},{"s":9,"t":0.245,"i":-0.076},{"s":9,"t":0.255,"i":-0.071},{"s":9,"t":0.265,"i":-0.08},{"s":9,"t":0.275,"i":-0.074},{"s":9,"t":0.285,"i":-0.072},{"s":9,"t":0.295,"i":-0.077},{"s":9,"t":0.305,"i":-0.077},{"s":9,"t":0.315,"i":-0.081},{"s":9,"t":0.325,"i":-0.075},{"s":9,"t":0.335,"i":-0.073},{"s":9,"t":0.345,"i":-0.08},{"s":9,"t":0.355,"i":-0.076},{"s":9,"t":0.365,"i":-0.078},{"s":9,"t":0.375,"i":-0.074},{"s":9,"t":0.385,"i":-0.082},{"s":9,"t":0.395,"i":-0.075},{"s":9,"t":0.405,"i":-0.073},{"s":9,"t":0.415,"i":-0.079},{"s":9,"t":0.425,"i":-0.076},{"s":9,"t":0.435,"i":-0.079},{"s":9,"t":0.445,"i":-0.071},{"s":9,"t":0.455,"i":-0.077},{"s":9,"t":0.465,"i":-0.074},{"s":9,"t":0.475,"i":-0.08},{"s":9,"t":0.485,"i":-0.073},{"s":9,"t":0.495,"i":-0.075},{"s":9,"t":0.505,"i":-0.079},{"s":9,"t":0.515,"i":-0.076},{"s":9,"t":0.525,"i":-0.07},{"s":9,"t":0.535,"i":-0.076},{"s":9,"t":0.545,"i":-0.078},{"s":9,"t":0.555,"i":-0.071},{"s":9,"t":0.565,"i":-0.073},{"s":9,"t":0.575,"i":-0.075},{"s":9,"t":0.585,"i":-0.072},{"s":9,"t":0.595,"i":-0.077},
{"s":10,"t":0.1,"i":0},{"s":10,"t":0.101,"i":-0.092},{"s":10,"t":0.11,"i":-0.088},{"s":10,"t":0.12,"i":-0.095},{"s":10,"t":0.13,"i":-0.089},{"s":10,"t":0.14,"i":-0.094},{"s":10,"t":0.15,"i":-0.087},{"s":10,"t":0.16,"i":-0.091},{"s":10,"t":0.17,"i":-0.09},{"s":10,"t":0.18,"i":-0.096},{"s":10,"t":0.19,"i":-0.089},{"s":10,"t":0.2,"i":-0.093},{"s":10,"t":0.21,"i":-0.088},{"s":10,"t":0.22,"i":-0.095},{"s":10,"t":0.23,"i":-0.09},{"s":10,"t":0.24,"i":-0.093},{"s":10,"t":0.25,"i":-0.088},{"s":10,"t":0.26,"i":-0.094},{"s":10,"t":0.27,"i":-0.091},{"s":10,"t":0.28,"i":-0.097},{"s":10,"t":0.29,"i":-0.09},{"s":10,"t":0.3,"i":-0.096},{"s":10,"t":0.31,"i":-0.093},{"s":10,"t":0.32,"i":-0.091},{"s":10,"t":0.33,"i":-0.098},{"s":10,"t":0.34,"i":-0.095},{"s":10,"t":0.35,"i":-0.089},{"s":10,"t":0.36,"i":-0.094},{"s":10,"t":0.37,"i":-0.09},{"s":10,"t":0.38,"i":-0.096},{"s":10,"t":0.39,"i":-0.092},{"s":10,"t":0.4,"i":-0.097},{"s":10,"t":0.41,"i":-0.091},{"s":10,"t":0.42,"i":-0.095},{"s":10,"t":0.43,"i":-0.088},{"s":10,"t":0.44,"i":-0.096},{"s":10,"t":0.45,"i":-0.091},{"s":10,"t":0.46,"i":-0.088},{"s":10,"t":0.47,"i":-0.095},{"s":10,"t":0.48,"i":-0.09},{"s":10,"t":0.49,"i":-0.094},{"s":10,"t":0.5,"i":-0.087},{"s":10,"t":0.51,"i":-0.093},{"s":10,"t":0.52,"i":-0.089},{"s":10,"t":0.53,"i":-0.096},{"s":10,"t":0.54,"i":-0.092},{"s":10,"t":0.55,"i":-0.087},{"s":10,"t":0.56,"i":-0.094},{"s":10,"t":0.57,"i":-0.09},{"s":10,"t":0.58,"i":-0.095},{"s":10,"t":0.59,"i":-0.088},{"s":10,"t":0.599,"i":-0.093},{"s":10,"t":0.6,"i":0},
{"s":10,"t":0.105,"i":-0.095},{"s":10,"t":0.115,"i":-0.089},{"s":10,"t":0.125,"i":-0.088},{"s":10,"t":0.135,"i":-0.092},{"s":10,"t":0.145,"i":-0.094},{"s":10,"t":0.155,"i":-0.086},{"s":10,"t":0.165,"i":-0.093},{"s":10,"t":0.175,"i":-0.091},{"s":10,"t":0.185,"i":-0.09},{"s":10,"t":0.195,"i":-0.095},{"s":10,"t":0.205,"i":-0.088},{"s":10,"t":0.215,"i":-0.093},{"s":10,"t":0.225,"i":-0.096},{"s":10,"t":0.235,"i":-0.089},{"s":10,"t":0.245,"i":-0.087},{"s":10,"t":0.255,"i":-0.094},{"s":10,"t":0.265,"i":-0.096},{"s":10,"t":0.275,"i":-0.092},{"s":10,"t":0.285,"i":-0.09},{"s":10,"t":0.295,"i":-0.097},{"s":10,"t":0.305,"i":-0.095},{"s":10,"t":0.315,"i":-0.088},{"s":10,"t":0.325,"i":-0.093},{"s":10,"t":0.335,"i":-0.096},{"s":10,"t":0.345,"i":-0.091},{"s":10,"t":0.355,"i":-0.094},{"s":10,"t":0.365,"i":-0.097},{"s":10,"t":0.375,"i":-0.089},{"s":10,"t":0.385,"i":-0.095},{"s":10,"t":0.395,"i":-0.092},{"s":10,"t":0.405,"i":-0.09},{"s":10,"t":0.415,"i":-0.098},{"s":10,"t":0.425,"i":-0.091},{"s":10,"t":0.435,"i":-0.094},{"s":10,"t":0.445,"i":-0.093},{"s":10,"t":0.455,"i":-0.087},{"s":10,"t":0.465,"i":-0.094},{"s":10,"t":0.475,"i":-0.093},{"s":10,"t":0.485,"i":-0.088},{"s":10,"t":0.495,"i":-0.09},{"s":10,"t":0.505,"i":-0.095},{"s":10,"t":0.515,"i":-0.089},{"s":10,"t":0.525,"i":-0.092},{"s":10,"t":0.535,"i":-0.094},{"s":10,"t":0.545,"i":-0.086},{"s":10,"t":0.555,"i":-0.093},{"s":10,"t":0.565,"i":-0.09},{"s":10,"t":0.575,"i":-0.095},{"s":10,"t":0.585,"i":-0.088},{"s":10,"t":0.595,"i":-0.091},
{"s":11,"t":0.1,"i":0},{"s":11,"t":0.101,"i":-0.095},{"s":11,"t":0.11,"i":-0.101},{"s":11,"t":0.12,"i":-0.098},{"s":11,"t":0.13,"i":-0.102},{"s":11,"t":0.14,"i":-0.096},{"s":11,"t":0.15,"i":-0.097},{"s":11,"t":0.16,"i":-0.103},{"s":11,"t":0.17,"i":-0.099},{"s":11,"t":0.18,"i":-0.101},{"s":11,"t":0.19,"i":-0.095},{"s":11,"t":0.2,"i":-0.104},{"s":11,"t":0.21,"i":-0.1},{"s":11,"t":0.22,"i":-0.102},{"s":11,"t":0.23,"i":-0.098},{"s":11,"t":0.24,"i":-0.106},{"s":11,"t":0.25,"i":-0.099},{"s":11,"t":0.26,"i":-0.104},{"s":11,"t":0.27,"i":-0.097},{"s":11,"t":0.28,"i":-0.101},{"s":11,"t":0.29,"i":-0.103},{"s":11,"t":0.3,"i":-0.1},{"s":11,"t":0.31,"i":-0.107},{"s":11,"t":0.32,"i":-0.102},{"s":11,"t":0.33,"i":-0.106},{"s":11,"t":0.34,"i":-0.099},{"s":11,"t":0.35,"i":-0.101},{"s":11,"t":0.36,"i":-0.105},{"s":11,"t":0.37,"i":-0.102},{"s":11,"t":0.38,"i":-0.108},{"s":11,"t":0.39,"i":-0.1},{"s":11,"t":0.4,"i":-0.103},{"s":11,"t":0.41,"i":-0.106},{"s":11,"t":0.42,"i":-0.098},{"s":11,"t":0.43,"i":-0.105},{"s":11,"t":0.44,"i":-0.101},{"s":11,"t":0.45,"i":-0.105},{"s":11,"t":0.46,"i":-0.098},{"s":11,"t":0.47,"i":-0.102},{"s":11,"t":0.48,"i":-0.104},{"s":11,"t":0.49,"i":-0.097},{"s":11,"t":0.5,"i":-0.099},{"s":11,"t":0.51,"i":-0.106},{"s":11,"t":0.52,"i":-0.1},{"s":11,"t":0.53,"i":-0.102},{"s":11,"t":0.54,"i":-0.098},{"s":11,"t":0.55,"i":-0.105},{"s":11,"t":0.56,"i":-0.101},{"s":11,"t":0.57,"i":-0.103},{"s":11,"t":0.58,"i":-0.097},{"s":11,"t":0.59,"i":-0.104},{"s":11,"t":0.599,"i":-0.099},{"s":11,"t":0.6,"i":0},
{"s":11,"t":0.105,"i":-0.098},{"s":11,"t":0.115,"i":-0.103},{"s":11,"t":0.125,"i":-0.096},{"s":11,"t":0.135,"i":-0.101},{"s":11,"t":0.145,"i":-0.099},{"s":11,"t":0.155,"i":-0.095},{"s":11,"t":0.165,"i":-0.104},{"s":11,"t":0.175,"i":-0.097},{"s":11,"t":0.185,"i":-0.1},{"s":11,"t":0.195,"i":-0.096},{"s":11,"t":0.205,"i":-0.104},{"s":11,"t":0.215,"i":-0.1},{"s":11,"t":0.225,"i":-0.097},{"s":11,"t":0.235,"i":-0.103},{"s":11,"t":0.245,"i":-0.105},{"s":11,"t":0.255,"i":-0.099},{"s":11,"t":0.265,"i":-0.101},{"s":11,"t":0.275,"i":-0.104},{"s":11,"t":0.285,"i":-0.096},{"s":11,"t":0.295,"i":-0.102},{"s":11,"t":0.305,"i":-0.101},{"s":11,"t":0.315,"i":-0.107},{"s":11,"t":0.325,"i":-0.1},{"s":11,"t":0.335,"i":-0.104},{"s":11,"t":0.345,"i":-0.106},{"s":11,"t":0.355,"i":-0.099},{"s":11,"t":0.365,"i":-0.103},{"s":11,"t":0.375,"i":-0.105},{"s":11,"t":0.385,"i":-0.102},{"s":11,"t":0.395,"i":-0.108},{"s":11,"t":0.405,"i":-0.1},{"s":11,"t":0.415,"i":-0.101},{"s":11,"t":0.425,"i":-0.107},{"s":11,"t":0.435,"i":-0.104},{"s":11,"t":0.445,"i":-0.099},{"s":11,"t":0.455,"i":-0.103},{"s":11,"t":0.465,"i":-0.1},{"s":11,"t":0.475,"i":-0.104},{"s":11,"t":0.485,"i":-0.098},{"s":11,"t":0.495,"i":-0.101},{"s":11,"t":0.505,"i":-0.106},{"s":11,"t":0.515,"i":-0.099},{"s":11,"t":0.525,"i":-0.1},{"s":11,"t":0.535,"i":-0.104},{"s":11,"t":0.545,"i":-0.097},{"s":11,"t":0.555,"i":-0.102},{"s":11,"t":0.565,"i":-0.103},{"s":11,"t":0.575,"i":-0.098},{"s":11,"t":0.585,"i":-0.105},{"s":11,"t":0.595,"i":-0.1},
{"s":12,"t":0.1,"i":0},{"s":12,"t":0.101,"i":-0.116},{"s":12,"t":0.11,"i":-0.12},{"s":12,"t":0.12,"i":-0.11},{"s":12,"t":0.13,"i":-0.119},{"s":12,"t":0.14,"i":-0.112},{"s":12,"t":0.15,"i":-0.122},{"s":12,"t":0.16,"i":-0.115},{"s":12,"t":0.17,"i":-0.113},{"s":12,"t":0.18,"i":-0.123},{"s":12,"t":0.19,"i":-0.12},{"s":12,"t":0.2,"i":-0.113},{"s":12,"t":0.21,"i":-0.126},{"s":12,"t":0.22,"i":-0.116},{"s":12,"t":0.23,"i":-0.119},{"s":12,"t":0.24,"i":-0.125},{"s":12,"t":0.25,"i":-0.115},{"s":12,"t":0.26,"i":-0.121},{"s":12,"t":0.27,"i":-0.125},{"s":12,"t":0.28,"i":-0.118},{"s":12,"t":0.29,"i":-0.128},{"s":12,"t":0.3,"i":-0.123},{"s":12,"t":0.31,"i":-0.119},{"s":12,"t":0.32,"i":-0.126},{"s":12,"t":0.33,"i":-0.115},{"s":12,"t":0.34,"i":-0.125},{"s":12,"t":0.35,"i":-0.121},{"s":12,"t":0.36,"i":-0.128},{"s":12,"t":0.37,"i":-0.122},{"s":12,"t":0.38,"i":-0.118},{"s":12,"t":0.39,"i":-0.126},{"s":12,"t":0.4,"i":-0.121},{"s":12,"t":0.41,"i":-0.125},{"s":12,"t":0.42,"i":-0.118},{"s":12,"t":0.43,"i":-0.131},{"s":12,"t":0.44,"i":-0.121},{"s":12,"t":0.45,"i":-0.128},{"s":12,"t":0.46,"i":-0.123},{"s":12,"t":0.47,"i":-0.12},{"s":12,"t":0.48,"i":-0.13},{"s":12,"t":0.49,"i":-0.124},{"s":12,"t":0.5,"i":-0.127},{"s":12,"t":0.51,"i":-0.117},{"s":12,"t":0.52,"i":-0.13},{"s":12,"t":0.53,"i":-0.125},{"s":12,"t":0.54,"i":-0.127},{"s":12,"t":0.55,"i":-0.123},{"s":12,"t":0.56,"i":-0.12},{"s":12,"t":0.57,"i":-0.129},{"s":12,"t":0.58,"i":-0.132},{"s":12,"t":0.59,"i":-0.125},{"s":12,"t":0.599,"i":-0.13},{"s":12,"t":0.6,"i":0},
{"s":12,"t":0.105,"i":-0.112},{"s":12,"t":0.115,"i":-0.119},{"s":12,"t":0.125,"i":-0.122},{"s":12,"t":0.135,"i":-0.115},{"s":12,"t":0.145,"i":-0.11},{"s":12,"t":0.155,"i":-0.12},{"s":12,"t":0.165,"i":-0.116},{"s":12,"t":0.175,"i":-0.113},{"s":12,"t":0.185,"i":-0.126},{"s":12,"t":0.195,"i":-0.115},{"s":12,"t":0.205,"i":-0.12},{"s":12,"t":0.215,"i":-0.123},{"s":12,"t":0.225,"i":-0.113},{"s":12,"t":0.235,"i":-0.122},{"s":12,"t":0.245,"i":-0.118},{"s":12,"t":0.255,"i":-0.125},{"s":12,"t":0.265,"i":-0.115},{"s":12,"t":0.275,"i":-0.123},{"s":12,"t":0.285,"i":-0.126},{"s":12,"t":0.295,"i":-0.119},{"s":12,"t":0.305,"i":-0.122},{"s":12,"t":0.315,"i":-0.116},{"s":12,"t":0.325,"i":-0.125},{"s":12,"t":0.335,"i":-0.128},{"s":12,"t":0.345,"i":-0.118},{"s":12,"t":0.355,"i":-0.123},{"s":12,"t":0.365,"i":-0.121},{"s":12,"t":0.375,"i":-0.126},{"s":12,"t":0.385,"i":-0.115},{"s":12,"t":0.395,"i":-0.125},{"s":12,"t":0.405,"i":-0.13},{"s":12,"t":0.415,"i":-0.121},{"s":12,"t":0.425,"i":-0.124},{"s":12,"t":0.435,"i":-0.12},{"s":12,"t":0.445,"i":-0.131},{"s":12,"t":0.455,"i":-0.123},{"s":12,"t":0.465,"i":-0.127},{"s":12,"t":0.475,"i":-0.118},{"s":12,"t":0.485,"i":-0.128},{"s":12,"t":0.495,"i":-0.125},{"s":12,"t":0.505,"i":-0.12},{"s":12,"t":0.515,"i":-0.124},{"s":12,"t":0.525,"i":-0.132},{"s":12,"t":0.535,"i":-0.123},{"s":12,"t":0.545,"i":-0.12},{"s":12,"t":0.555,"i":-0.13},{"s":12,"t":0.565,"i":-0.127},{"s":12,"t":0.575,"i":-0.125},{"s":12,"t":0.585,"i":-0.129},{"s":12,"t":0.595,"i":-0.122},
{"s":13,"t":0.1,"i":0},{"s":13,"t":0.101,"i":-0.126},{"s":13,"t":0.11,"i":-0.133},{"s":13,"t":0.12,"i":-0.123},{"s":13,"t":0.13,"i":-0.13},{"s":13,"t":0.14,"i":-0.125},{"s":13,"t":0.15,"i":-0.135},{"s":13,"t":0.16,"i":-0.128},{"s":13,"t":0.17,"i":-0.122},{"s":13,"t":0.18,"i":-0.135},{"s":13,"t":0.19,"i":-0.129},{"s":13,"t":0.2,"i":-0.138},{"s":13,"t":0.21,"i":-0.128},{"s":13,"t":0.22,"i":-0.133},{"s":13,"t":0.23,"i":-0.126},{"s":13,"t":0.24,"i":-0.136},{"s":13,"t":0.25,"i":-0.132},{"s":13,"t":0.26,"i":-0.131},{"s":13,"t":0.27,"i":-0.142},{"s":13,"t":0.28,"i":-0.132},{"s":13,"t":0.29,"i":-0.138},{"s":13,"t":0.3,"i":-0.129},{"s":13,"t":0.31,"i":-0.136},{"s":13,"t":0.32,"i":-0.131},{"s":13,"t":0.33,"i":-0.139},{"s":13,"t":0.34,"i":-0.134},{"s":13,"t":0.35,"i":-0.141},{"s":13,"t":0.36,"i":-0.132},{"s":13,"t":0.37,"i":-0.128},{"s":13,"t":0.38,"i":-0.138},{"s":13,"t":0.39,"i":-0.135},{"s":13,"t":0.4,"i":-0.132},{"s":13,"t":0.41,"i":-0.14},{"s":13,"t":0.42,"i":-0.13},{"s":13,"t":0.43,"i":-0.139},{"s":13,"t":0.44,"i":-0.135},{"s":13,"t":0.45,"i":-0.143},{"s":13,"t":0.46,"i":-0.133},{"s":13,"t":0.47,"i":-0.137},{"s":13,"t":0.48,"i":-0.13},{"s":13,"t":0.49,"i":-0.14},{"s":13,"t":0.5,"i":-0.133},{"s":13,"t":0.51,"i":-0.139},{"s":13,"t":0.52,"i":-0.128},{"s":13,"t":0.53,"i":-0.136},{"s":13,"t":0.54,"i":-0.135},{"s":13,"t":0.55,"i":-0.141},{"s":13,"t":0.56,"i":-0.131},{"s":13,"t":0.57,"i":-0.138},{"s":13,"t":0.58,"i":-0.129},{"s":13,"t":0.59,"i":-0.139},{"s":13,"t":0.599,"i":-0.134},{"s":13,"t":0.6,"i":0},
{"s":13,"t":0.105,"i":-0.123},{"s":13,"t":0.115,"i":-0.132},{"s":13,"t":0.125,"i":-0.133},{"s":13,"t":0.135,"i":-0.128},{"s":13,"t":0.145,"i":-0.125},{"s":13,"t":0.155,"i":-0.136},{"s":13,"t":0.165,"i":-0.126},{"s":13,"t":0.175,"i":-0.129},{"s":13,"t":0.185,"i":-0.133},{"s":13,"t":0.195,"i":-0.126},{"s":13,"t":0.205,"i":-0.136},{"s":13,"t":0.215,"i":-0.129},{"s":13,"t":0.225,"i":-0.125},{"s":13,"t":0.235,"i":-0.135},{"s":13,"t":0.245,"i":-0.138},{"s":13,"t":0.255,"i":-0.131},{"s":13,"t":0.265,"i":-0.131},{"s":13,"t":0.275,"i":-0.136},{"s":13,"t":0.285,"i":-0.139},{"s":13,"t":0.295,"i":-0.129},{"s":13,"t":0.305,"i":-0.132},{"s":13,"t":0.315,"i":-0.142},{"s":13,"t":0.325,"i":-0.135},{"s":13,"t":0.335,"i":-0.131},{"s":13,"t":0.345,"i":-0.138},{"s":13,"t":0.355,"i":-0.134},{"s":13,"t":0.365,"i":-0.129},{"s":13,"t":0.375,"i":-0.141},{"s":13,"t":0.385,"i":-0.132},{"s":13,"t":0.395,"i":-0.136},{"s":13,"t":0.405,"i":-0.14},{"s":13,"t":0.415,"i":-0.129},{"s":13,"t":0.425,"i":-0.139},{"s":13,"t":0.435,"i":-0.135},{"s":13,"t":0.445,"i":-0.136},{"s":13,"t":0.455,"i":-0.142},{"s":13,"t":0.465,"i":-0.132},{"s":13,"t":0.475,"i":-0.133},{"s":13,"t":0.485,"i":-0.14},{"s":13,"t":0.495,"i":-0.137},{"s":13,"t":0.505,"i":-0.13},{"s":13,"t":0.515,"i":-0.139},{"s":13,"t":0.525,"i":-0.134},{"s":13,"t":0.535,"i":-0.131},{"s":13,"t":0.545,"i":-0.142},{"s":13,"t":0.555,"i":-0.132},{"s":13,"t":0.565,"i":-0.136},{"s":13,"t":0.575,"i":-0.129},{"s":13,"t":0.585,"i":-0.139},{"s":13,"t":0.595,"i":-0.135},
{"s":14,"t":0.1,"i":0},{"s":14,"t":0.101,"i":-0.146},{"s":14,"t":0.11,"i":-0.139},{"s":14,"t":0.12,"i":-0.149},{"s":14,"t":0.13,"i":-0.14},{"s":14,"t":0.14,"i":-0.143},{"s":14,"t":0.15,"i":-0.137},{"s":14,"t":0.16,"i":-0.147},{"s":14,"t":0.17,"i":-0.142},{"s":14,"t":0.18,"i":-0.147},{"s":14,"t":0.19,"i":-0.139},{"s":14,"t":0.2,"i":-0.149},{"s":14,"t":0.21,"i":-0.152},{"s":14,"t":0.22,"i":-0.142},{"s":14,"t":0.23,"i":-0.145},{"s":14,"t":0.24,"i":-0.15},{"s":14,"t":0.25,"i":-0.14},{"s":14,"t":0.26,"i":-0.152},{"s":14,"t":0.27,"i":-0.146},{"s":14,"t":0.28,"i":-0.156},{"s":14,"t":0.29,"i":-0.145},{"s":14,"t":0.3,"i":-0.149},{"s":14,"t":0.31,"i":-0.161},{"s":14,"t":0.32,"i":-0.142},{"s":14,"t":0.33,"i":-0.15},{"s":14,"t":0.34,"i":-0.146},{"s":14,"t":0.35,"i":-0.152},{"s":14,"t":0.36,"i":-0.155},{"s":14,"t":0.37,"i":-0.145},{"s":14,"t":0.38,"i":-0.15},{"s":14,"t":0.39,"i":-0.143},{"s":14,"t":0.4,"i":-0.154},{"s":14,"t":0.41,"i":-0.147},{"s":14,"t":0.42,"i":-0.15},{"s":14,"t":0.43,"i":-0.159},{"s":14,"t":0.44,"i":-0.146},{"s":14,"t":0.45,"i":-0.153},{"s":14,"t":0.46,"i":-0.143},{"s":14,"t":0.47,"i":-0.154},{"s":14,"t":0.48,"i":-0.149},{"s":14,"t":0.49,"i":-0.151},{"s":14,"t":0.5,"i":-0.146},{"s":14,"t":0.51,"i":-0.156},{"s":14,"t":0.52,"i":-0.144},{"s":14,"t":0.53,"i":-0.147},{"s":14,"t":0.54,"i":-0.141},{"s":14,"t":0.55,"i":-0.15},{"s":14,"t":0.56,"i":-0.151},{"s":14,"t":0.57,"i":-0.143},{"s":14,"t":0.58,"i":-0.148},{"s":14,"t":0.59,"i":-0.144},{"s":14,"t":0.599,"i":-0.153},{"s":14,"t":0.6,"i":0},
{"s":14,"t":0.105,"i":-0.144},{"s":14,"t":0.115,"i":-0.137},{"s":14,"t":0.125,"i":-0.147},{"s":14,"t":0.135,"i":-0.14},{"s":14,"t":0.145,"i":-0.143},{"s":14,"t":0.155,"i":-0.149},{"s":14,"t":0.165,"i":-0.136},{"s":14,"t":0.175,"i":-0.146},{"s":14,"t":0.185,"i":-0.145},{"s":14,"t":0.195,"i":-0.15},{"s":14,"t":0.205,"i":-0.142},{"s":14,"t":0.215,"i":-0.147},{"s":14,"t":0.225,"i":-0.152},{"s":14,"t":0.235,"i":-0.143},{"s":14,"t":0.245,"i":-0.14},{"s":14,"t":0.255,"i":-0.149},{"s":14,"t":0.265,"i":-0.149},{"s":14,"t":0.275,"i":-0.145},{"s":14,"t":0.285,"i":-0.156},{"s":14,"t":0.295,"i":-0.148},{"s":14,"t":0.305,"i":-0.152},{"s":14,"t":0.315,"i":-0.143},{"s":14,"t":0.325,"i":-0.153},{"s":14,"t":0.335,"i":-0.148},{"s":14,"t":0.345,"i":-0.145},{"s":14,"t":0.355,"i":-0.155},{"s":14,"t":0.365,"i":-0.149},{"s":14,"t":0.375,"i":-0.146},{"s":14,"t":0.385,"i":-0.15},{"s":14,"t":0.395,"i":-0.142},{"s":14,"t":0.405,"i":-0.154},{"s":14,"t":0.415,"i":-0.153},{"s":14,"t":0.425,"i":-0.144},{"s":14,"t":0.435,"i":-0.149},{"s":14,"t":0.445,"i":-0.156},{"s":14,"t":0.455,"i":-0.147},{"s":14,"t":0.465,"i":-0.151},{"s":14,"t":0.475,"i":-0.146},{"s":14,"t":0.485,"i":-0.154},{"s":14,"t":0.495,"i":-0.15},{"s":14,"t":0.505,"i":-0.143},{"s":14,"t":0.515,"i":-0.153},{"s":14,"t":0.525,"i":-0.148},{"s":14,"t":0.535,"i":-0.143},{"s":14,"t":0.545,"i":-0.153},{"s":14,"t":0.555,"i":-0.146},{"s":14,"t":0.565,"i":-0.144},{"s":14,"t":0.575,"i":-0.151},{"s":14,"t":0.585,"i":-0.141},{"s":14,"t":0.595,"i":-0.148},
{"s":15,"t":0.1,"i":0},{"s":15,"t":0.101,"i":-0.158},{"s":15,"t":0.11,"i":-0.163},{"s":15,"t":0.12,"i":-0.168},{"s":15,"t":0.13,"i":-0.159},{"s":15,"t":0.14,"i":-0.156},{"s":15,"t":0.15,"i":-0.165},{"s":15,"t":0.16,"i":-0.161},{"s":15,"t":0.17,"i":-0.166},{"s":15,"t":0.18,"i":-0.162},{"s":15,"t":0.19,"i":-0.173},{"s":15,"t":0.2,"i":-0.163},{"s":15,"t":0.21,"i":-0.166},{"s":15,"t":0.22,"i":-0.16},{"s":15,"t":0.23,"i":-0.17},{"s":15,"t":0.24,"i":-0.167},{"s":15,"t":0.25,"i":-0.162},{"s":15,"t":0.26,"i":-0.172},{"s":15,"t":0.27,"i":-0.162},{"s":15,"t":0.28,"i":-0.175},{"s":15,"t":0.29,"i":-0.168},{"s":15,"t":0.3,"i":-0.172},{"s":15,"t":0.31,"i":-0.165},{"s":15,"t":0.32,"i":-0.173},{"s":15,"t":0.33,"i":-0.169},{"s":15,"t":0.34,"i":-0.163},{"s":15,"t":0.35,"i":-0.17},{"s":15,"t":0.36,"i":-0.166},{"s":15,"t":0.37,"i":-0.176},{"s":15,"t":0.38,"i":-0.165},{"s":15,"t":0.39,"i":-0.172},{"s":15,"t":0.4,"i":-0.168},{"s":15,"t":0.41,"i":-0.163},{"s":15,"t":0.42,"i":-0.173},{"s":15,"t":0.43,"i":-0.166},{"s":15,"t":0.44,"i":-0.167},{"s":15,"t":0.45,"i":-0.17},{"s":15,"t":0.46,"i":-0.16},{"s":15,"t":0.47,"i":-0.166},{"s":15,"t":0.48,"i":-0.169},{"s":15,"t":0.49,"i":-0.159},{"s":15,"t":0.5,"i":-0.172},{"s":15,"t":0.51,"i":-0.165},{"s":15,"t":0.52,"i":-0.158},{"s":15,"t":0.53,"i":-0.165},{"s":15,"t":0.54,"i":-0.163},{"s":15,"t":0.55,"i":-0.156},{"s":15,"t":0.56,"i":-0.166},{"s":15,"t":0.57,"i":-0.159},{"s":15,"t":0.58,"i":-0.168},{"s":15,"t":0.59,"i":-0.158},{"s":15,"t":0.599,"i":-0.162},{"s":15,"t":0.6,"i":0},
{"s":15,"t":0.105,"i":-0.166},{"s":15,"t":0.115,"i":-0.159},{"s":15,"t":0.125,"i":-0.156},{"s":15,"t":0.135,"i":-0.163},{"s":15,"t":0.145,"i":-0.168},{"s":15,"t":0.155,"i":-0.158},{"s":15,"t":0.165,"i":-0.162},{"s":15,"t":0.175,"i":-0.165},{"s":15,"t":0.185,"i":-0.159},{"s":15,"t":0.195,"i":-0.17},{"s":15,"t":0.205,"i":-0.165},{"s":15,"t":0.215,"i":-0.162},{"s":15,"t":0.225,"i":-0.172},{"s":15,"t":0.235,"i":-0.163},{"s":15,"t":0.245,"i":-0.167},{"s":15,"t":0.255,"i":-0.16},{"s":15,"t":0.265,"i":-0.176},{"s":15,"t":0.275,"i":-0.168},{"s":15,"t":0.285,"i":-0.165},{"s":15,"t":0.295,"i":-0.172},{"s":15,"t":0.305,"i":-0.169},{"s":15,"t":0.315,"i":-0.175},{"s":15,"t":0.325,"i":-0.166},{"s":15,"t":0.335,"i":-0.163},{"s":15,"t":0.345,"i":-0.173},{"s":15,"t":0.355,"i":-0.168},{"s":15,"t":0.365,"i":-0.17},{"s":15,"t":0.375,"i":-0.165},{"s":15,"t":0.385,"i":-0.176},{"s":15,"t":0.395,"i":-0.166},{"s":15,"t":0.405,"i":-0.163},{"s":15,"t":0.415,"i":-0.172},{"s":15,"t":0.425,"i":-0.169},{"s":15,"t":0.435,"i":-0.173},{"s":15,"t":0.445,"i":-0.159},{"s":15,"t":0.455,"i":-0.167},{"s":15,"t":0.465,"i":-0.163},{"s":15,"t":0.475,"i":-0.172},{"s":15,"t":0.485,"i":-0.162},{"s":15,"t":0.495,"i":-0.165},{"s":15,"t":0.505,"i":-0.17},{"s":15,"t":0.515,"i":-0.166},{"s":15,"t":0.525,"i":-0.156},{"s":15,"t":0.535,"i":-0.165},{"s":15,"t":0.545,"i":-0.168},{"s":15,"t":0.555,"i":-0.158},{"s":15,"t":0.565,"i":-0.161},{"s":15,"t":0.575,"i":-0.163},{"s":15,"t":0.585,"i":-0.159},{"s":15,"t":0.595,"i":-0.166},
{"s":16,"t":0.1,"i":0},{"s":16,"t":0.101,"i":-0.176},{"s":16,"t":0.11,"i":-0.169},{"s":16,"t":0.12,"i":-0.179},{"s":16,"t":0.13,"i":-0.172},{"s":16,"t":0.14,"i":-0.177},{"s":16,"t":0.15,"i":-0.167},{"s":16,"t":0.16,"i":-0.174},{"s":16,"t":0.17,"i":-0.18},{"s":16,"t":0.18,"i":-0.173},{"s":16,"t":0.19,"i":-0.179},{"s":16,"t":0.2,"i":-0.17},{"s":16,"t":0.21,"i":-0.18},{"s":16,"t":0.22,"i":-0.175},{"s":16,"t":0.23,"i":-0.182},{"s":16,"t":0.24,"i":-0.172},{"s":16,"t":0.25,"i":-0.176},{"s":16,"t":0.26,"i":-0.183},{"s":16,"t":0.27,"i":-0.172},{"s":16,"t":0.28,"i":-0.182},{"s":16,"t":0.29,"i":-0.176},{"s":16,"t":0.3,"i":-0.185},{"s":16,"t":0.31,"i":-0.178},{"s":16,"t":0.32,"i":-0.183},{"s":16,"t":0.33,"i":-0.175},{"s":16,"t":0.34,"i":-0.18},{"s":16,"t":0.35,"i":-0.173},{"s":16,"t":0.36,"i":-0.182},{"s":16,"t":0.37,"i":-0.186},{"s":16,"t":0.38,"i":-0.178},{"s":16,"t":0.39,"i":-0.181},{"s":16,"t":0.4,"i":-0.185},{"s":16,"t":0.41,"i":-0.177},{"s":16,"t":0.42,"i":-0.187},{"s":16,"t":0.43,"i":-0.178},{"s":16,"t":0.44,"i":-0.182},{"s":16,"t":0.45,"i":-0.174},{"s":16,"t":0.46,"i":-0.184},{"s":16,"t":0.47,"i":-0.18},{"s":16,"t":0.48,"i":-0.19},{"s":16,"t":0.49,"i":-0.18},{"s":16,"t":0.5,"i":-0.187},{"s":16,"t":0.51,"i":-0.181},{"s":16,"t":0.52,"i":-0.191},{"s":16,"t":0.53,"i":-0.183},{"s":16,"t":0.54,"i":-0.184},{"s":16,"t":0.55,"i":-0.178},{"s":16,"t":0.56,"i":-0.188},{"s":16,"t":0.57,"i":-0.181},{"s":16,"t":0.58,"i":-0.19},{"s":16,"t":0.59,"i":-0.18},{"s":16,"t":0.599,"i":-0.185},{"s":16,"t":0.6,"i":0},
{"s":16,"t":0.105,"i":-0.179},{"s":16,"t":0.115,"i":-0.17},{"s":16,"t":0.125,"i":-0.169},{"s":16,"t":0.135,"i":-0.174},{"s":16,"t":0.145,"i":-0.177},{"s":16,"t":0.155,"i":-0.166},{"s":16,"t":0.165,"i":-0.176},{"s":16,"t":0.175,"i":-0.173},{"s":16,"t":0.185,"i":-0.175},{"s":16,"t":0.195,"i":-0.182},{"s":16,"t":0.205,"i":-0.172},{"s":16,"t":0.215,"i":-0.179},{"s":16,"t":0.225,"i":-0.183},{"s":16,"t":0.235,"i":-0.173},{"s":16,"t":0.245,"i":-0.17},{"s":16,"t":0.255,"i":-0.177},{"s":16,"t":0.265,"i":-0.183},{"s":16,"t":0.275,"i":-0.178},{"s":16,"t":0.285,"i":-0.175},{"s":16,"t":0.295,"i":-0.185},{"s":16,"t":0.305,"i":-0.182},{"s":16,"t":0.315,"i":-0.172},{"s":16,"t":0.325,"i":-0.179},{"s":16,"t":0.335,"i":-0.183},{"s":16,"t":0.345,"i":-0.176},{"s":16,"t":0.355,"i":-0.18},{"s":16,"t":0.365,"i":-0.185},{"s":16,"t":0.375,"i":-0.173},{"s":16,"t":0.385,"i":-0.184},{"s":16,"t":0.395,"i":-0.18},{"s":16,"t":0.405,"i":-0.177},{"s":16,"t":0.415,"i":-0.188},{"s":16,"t":0.425,"i":-0.178},{"s":16,"t":0.435,"i":-0.182},{"s":16,"t":0.445,"i":-0.181},{"s":16,"t":0.455,"i":-0.175},{"s":16,"t":0.465,"i":-0.185},{"s":16,"t":0.475,"i":-0.184},{"s":16,"t":0.485,"i":-0.18},{"s":16,"t":0.495,"i":-0.183},{"s":16,"t":0.505,"i":-0.19},{"s":16,"t":0.515,"i":-0.181},{"s":16,"t":0.525,"i":-0.185},{"s":16,"t":0.535,"i":-0.188},{"s":16,"t":0.545,"i":-0.177},{"s":16,"t":0.555,"i":-0.187},{"s":16,"t":0.565,"i":-0.183},{"s":16,"t":0.575,"i":-0.19},{"s":16,"t":0.585,"i":-0.18},{"s":16,"t":0.595,"i":-0.184},
{"s":17,"t":0.1,"i":0},{"s":17,"t":0.101,"i":-0.191},{"s":17,"t":0.11,"i":-0.201},{"s":17,"t":0.12,"i":-0.187},{"s":17,"t":0.13,"i":-0.199},{"s":17,"t":0.14,"i":-0.195},{"s":17,"t":0.15,"i":-0.203},{"s":17,"t":0.16,"i":-0.194},{"s":17,"t":0.17,"i":-0.202},{"s":17,"t":0.18,"i":-0.198},{"s":17,"t":0.19,"i":-0.21},{"s":17,"t":0.2,"i":-0.196},{"s":17,"t":0.21,"i":-0.192},{"s":17,"t":0.22,"i":-0.206},{"s":17,"t":0.23,"i":-0.202},{"s":17,"t":0.24,"i":-0.198},{"s":17,"t":0.25,"i":-0.212},{"s":17,"t":0.26,"i":-0.2},{"s":17,"t":0.27,"i":-0.208},{"s":17,"t":0.28,"i":-0.194},{"s":17,"t":0.29,"i":-0.21},{"s":17,"t":0.3,"i":-0.204},{"s":17,"t":0.31,"i":-0.198},{"s":17,"t":0.32,"i":-0.214},{"s":17,"t":0.33,"i":-0.202},{"s":17,"t":0.34,"i":-0.211},{"s":17,"t":0.35,"i":-0.203},{"s":17,"t":0.36,"i":-0.199},{"s":17,"t":0.37,"i":-0.213},{"s":17,"t":0.38,"i":-0.205},{"s":17,"t":0.39,"i":-0.215},{"s":17,"t":0.4,"i":-0.201},{"s":17,"t":0.41,"i":-0.211},{"s":17,"t":0.42,"i":-0.207},{"s":17,"t":0.43,"i":-0.199},{"s":17,"t":0.44,"i":-0.213},{"s":17,"t":0.45,"i":-0.203},{"s":17,"t":0.46,"i":-0.217},{"s":17,"t":0.47,"i":-0.201},{"s":17,"t":0.48,"i":-0.209},{"s":17,"t":0.49,"i":-0.205},{"s":17,"t":0.5,"i":-0.209},{"s":17,"t":0.51,"i":-0.195},{"s":17,"t":0.52,"i":-0.207},{"s":17,"t":0.53,"i":-0.203},{"s":17,"t":0.54,"i":-0.211},{"s":17,"t":0.55,"i":-0.195},{"s":17,"t":0.56,"i":-0.193},{"s":17,"t":0.57,"i":-0.205},{"s":17,"t":0.58,"i":-0.197},{"s":17,"t":0.59,"i":-0.203},{"s":17,"t":0.599,"i":-0.191},{"s":17,"t":0.6,"i":0},
{"s":17,"t":0.105,"i":-0.193},{"s":17,"t":0.115,"i":-0.203},{"s":17,"t":0.125,"i":-0.189},{"s":17,"t":0.135,"i":-0.199},{"s":17,"t":0.145,"i":-0.195},{"s":17,"t":0.155,"i":-0.187},{"s":17,"t":0.165,"i":-0.21},{"s":17,"t":0.175,"i":-0.196},{"s":17,"t":0.185,"i":-0.202},{"s":17,"t":0.195,"i":-0.194},{"s":17,"t":0.205,"i":-0.206},{"s":17,"t":0.215,"i":-0.198},{"s":17,"t":0.225,"i":-0.192},{"s":17,"t":0.235,"i":-0.204},{"s":17,"t":0.245,"i":-0.212},{"s":17,"t":0.255,"i":-0.2},{"s":17,"t":0.265,"i":-0.204},{"s":17,"t":0.275,"i":-0.21},{"s":17,"t":0.285,"i":-0.194},{"s":17,"t":0.295,"i":-0.206},{"s":17,"t":0.305,"i":-0.2},{"s":17,"t":0.315,"i":-0.212},{"s":17,"t":0.325,"i":-0.198},{"s":17,"t":0.335,"i":-0.206},{"s":17,"t":0.345,"i":-0.213},{"s":17,"t":0.355,"i":-0.199},{"s":17,"t":0.365,"i":-0.207},{"s":17,"t":0.375,"i":-0.211},{"s":17,"t":0.385,"i":-0.205},{"s":17,"t":0.395,"i":-0.217},{"s":17,"t":0.405,"i":-0.201},{"s":17,"t":0.415,"i":-0.203},{"s":17,"t":0.425,"i":-0.215},{"s":17,"t":0.435,"i":-0.209},{"s":17,"t":0.445,"i":-0.199},{"s":17,"t":0.455,"i":-0.211},{"s":17,"t":0.465,"i":-0.205},{"s":17,"t":0.475,"i":-0.213},{"s":17,"t":0.485,"i":-0.201},{"s":17,"t":0.495,"i":-0.207},{"s":17,"t":0.505,"i":-0.213},{"s":17,"t":0.515,"i":-0.199},{"s":17,"t":0.525,"i":-0.201},{"s":17,"t":0.535,"i":-0.209},{"s":17,"t":0.545,"i":-0.195},{"s":17,"t":0.555,"i":-0.201},{"s":17,"t":0.565,"i":-0.203},{"s":17,"t":0.575,"i":-0.193},{"s":17,"t":0.585,"i":-0.207},{"s":17,"t":0.595,"i":-0.197},
{"s":18,"t":0.1,"i":0},{"s":18,"t":0.1005,"i":-0.249},{"s":18,"t":0.101,"i":-0.215},{"s":18,"t":0.11,"i":-0.211},{"s":18,"t":0.12,"i":-0.205},{"s":18,"t":0.13,"i":-0.217},{"s":18,"t":0.14,"i":-0.221},{"s":18,"t":0.15,"i":-0.209},{"s":18,"t":0.16,"i":-0.215},{"s":18,"t":0.17,"i":-0.212},{"s":18,"t":0.18,"i":-0.224},{"s":18,"t":0.19,"i":-0.208},{"s":18,"t":0.2,"i":-0.222},{"s":18,"t":0.21,"i":-0.218},{"s":18,"t":0.22,"i":-0.226},{"s":18,"t":0.23,"i":-0.212},{"s":18,"t":0.24,"i":-0.224},{"s":18,"t":0.25,"i":-0.24},{"s":18,"t":0.26,"i":-0.222},{"s":18,"t":0.27,"i":-0.236},{"s":18,"t":0.28,"i":-0.218},{"s":18,"t":0.29,"i":-0.228},{"s":18,"t":0.3,"i":-0.222},{"s":18,"t":0.31,"i":-0.232},{"s":18,"t":0.32,"i":-0.22},{"s":18,"t":0.33,"i":-0.247},{"s":18,"t":0.34,"i":-0.239},{"s":18,"t":0.35,"i":-0.229},{"s":18,"t":0.36,"i":-0.235},{"s":18,"t":0.37,"i":-0.221},{"s":18,"t":0.38,"i":-0.237},{"s":18,"t":0.39,"i":-0.227},{"s":18,"t":0.4,"i":-0.233},{"s":18,"t":0.41,"i":-0.239},{"s":18,"t":0.42,"i":-0.225},{"s":18,"t":0.43,"i":-0.235},{"s":18,"t":0.44,"i":-0.229},{"s":18,"t":0.45,"i":-0.225},{"s":18,"t":0.46,"i":-0.239},{"s":18,"t":0.47,"i":-0.251},{"s":18,"t":0.48,"i":-0.227},{"s":18,"t":0.49,"i":-0.241},{"s":18,"t":0.5,"i":-0.223},{"s":18,"t":0.51,"i":-0.233},{"s":18,"t":0.52,"i":-0.237},{"s":18,"t":0.53,"i":-0.227},{"s":18,"t":0.54,"i":-0.246},{"s":18,"t":0.55,"i":-0.232},{"s":18,"t":0.56,"i":-0.218},{"s":18,"t":0.57,"i":-0.228},{"s":18,"t":0.58,"i":-0.212},{"s":18,"t":0.59,"i":-0.226},{"s":18,"t":0.599,"i":-0.22},{"s":18,"t":0.6,"i":0},
{"s":18,"t":0.105,"i":-0.208},{"s":18,"t":0.115,"i":-0.217},{"s":18,"t":0.125,"i":-0.221},{"s":18,"t":0.135,"i":-0.211},{"s":18,"t":0.145,"i":-0.205},{"s":18,"t":0.155,"i":-0.219},{"s":18,"t":0.165,"i":-0.213},{"s":18,"t":0.175,"i":-0.214},{"s":18,"t":0.185,"i":-0.228},{"s":18,"t":0.195,"i":-0.212},{"s":18,"t":0.205,"i":-0.22},{"s":18,"t":0.215,"i":-0.224},{"s":18,"t":0.225,"i":-0.21},{"s":18,"t":0.235,"i":-0.222},{"s":18,"t":0.245,"i":-0.224},{"s":18,"t":0.255,"i":-0.234},{"s":18,"t":0.265,"i":-0.216},{"s":18,"t":0.275,"i":-0.228},{"s":18,"t":0.285,"i":-0.232},{"s":18,"t":0.295,"i":-0.222},{"s":18,"t":0.305,"i":-0.226},{"s":18,"t":0.315,"i":-0.218},{"s":18,"t":0.325,"i":-0.23},{"s":18,"t":0.335,"i":-0.234},{"s":18,"t":0.345,"i":-0.225},{"s":18,"t":0.355,"i":-0.233},{"s":18,"t":0.365,"i":-0.229},{"s":18,"t":0.375,"i":-0.237},{"s":18,"t":0.385,"i":-0.221},{"s":18,"t":0.395,"i":-0.235},{"s":18,"t":0.405,"i":-0.239},{"s":18,"t":0.415,"i":-0.227},{"s":18,"t":0.425,"i":-0.231},{"s":18,"t":0.435,"i":-0.225},{"s":18,"t":0.445,"i":-0.241},{"s":18,"t":0.455,"i":-0.229},{"s":18,"t":0.465,"i":-0.235},{"s":18,"t":0.475,"i":-0.223},{"s":18,"t":0.485,"i":-0.237},{"s":18,"t":0.495,"i":-0.233},{"s":18,"t":0.505,"i":-0.225},{"s":18,"t":0.515,"i":-0.231},{"s":18,"t":0.525,"i":-0.239},{"s":18,"t":0.535,"i":-0.227},{"s":18,"t":0.545,"i":-0.216},{"s":18,"t":0.555,"i":-0.23},{"s":18,"t":0.565,"i":-0.226},{"s":18,"t":0.575,"i":-0.222},{"s":18,"t":0.585,"i":-0.224},{"s":18,"t":0.595,"i":-0.214}
]},
"layer":[
{"transform":[{"filter":"datum.s == 0 || datum.s == 19"}],
 "mark":{"type":"line","color":"#000000","strokeWidth":2.2,"strokeJoin":"round","clip":true},
 "encoding":{
  "x":{"field":"t","type":"quantitative","scale":{"domain":[0.002,0.698],"nice":false,"zero":false},
   "axis":{"values":[0.1,0.6],"format":".1f","grid":false,"title":"t [s]","titleFont":"DejaVu Sans","titleFontSize":25,"titleFontWeight":"normal","titleColor":"#262626","titleX":302,"titleY":63,"titleAlign":"center","titleBaseline":"alphabetic","labelFont":"DejaVu Sans","labelFontSize":22,"labelColor":"#262626","labelFlush":false,"labelPadding":18,"tickSize":-5,"tickColor":"#555555","domainColor":"#555555"}},
  "y":{"field":"i","type":"quantitative","scale":{"domain":[-0.2818,0.0606],"nice":false,"zero":false},
   "axis":{"values":[-0.2,-0.1,0],"labelExpr":"datum.value == 0 ? '0' : '' + datum.value","grid":false,"title":"I [nA]","titleFont":"DejaVu Sans","titleFontSize":25,"titleFontWeight":"normal","titleColor":"#262626","titleX":-61,"titleY":231,"titleAngle":270,"titleAlign":"center","titleBaseline":"alphabetic","labelFont":"DejaVu Sans","labelFontSize":22,"labelColor":"#262626","labelPadding":15,"tickSize":-5,"tickColor":"#555555","domainColor":"#555555"}},
  "detail":{"field":"s","type":"nominal"}}},
{"transform":[{"filter":"datum.s > 0 && datum.s < 19"}],
 "mark":{"type":"line","color":"#000000","strokeWidth":1.3,"strokeJoin":"round","clip":true},
 "encoding":{
  "x":{"field":"t","type":"quantitative"},
  "y":{"field":"i","type":"quantitative"},
  "detail":{"field":"s","type":"nominal"}}},
{"data":{"values":[{}]},
 "mark":{"type":"text","align":"right","baseline":"alphabetic","fontSize":19,"font":"DejaVu Sans","color":"#000000"},
 "encoding":{"x":{"datum":0.6958},"y":{"datum":0.0577},"text":{"value":"25 °C\u00a0 Activation"}}},
{"data":{"values":[{}]},
 "mark":{"type":"text","angle":270,"align":"center","baseline":"alphabetic","fontSize":14,"font":"DejaVu Sans","color":"#000000"},
 "encoding":{"x":{"datum":0.7177},"y":{"datum":-0.111},"text":{"value":"BBP Channelpedia ID 23751 rep 1"}}}
]
}
